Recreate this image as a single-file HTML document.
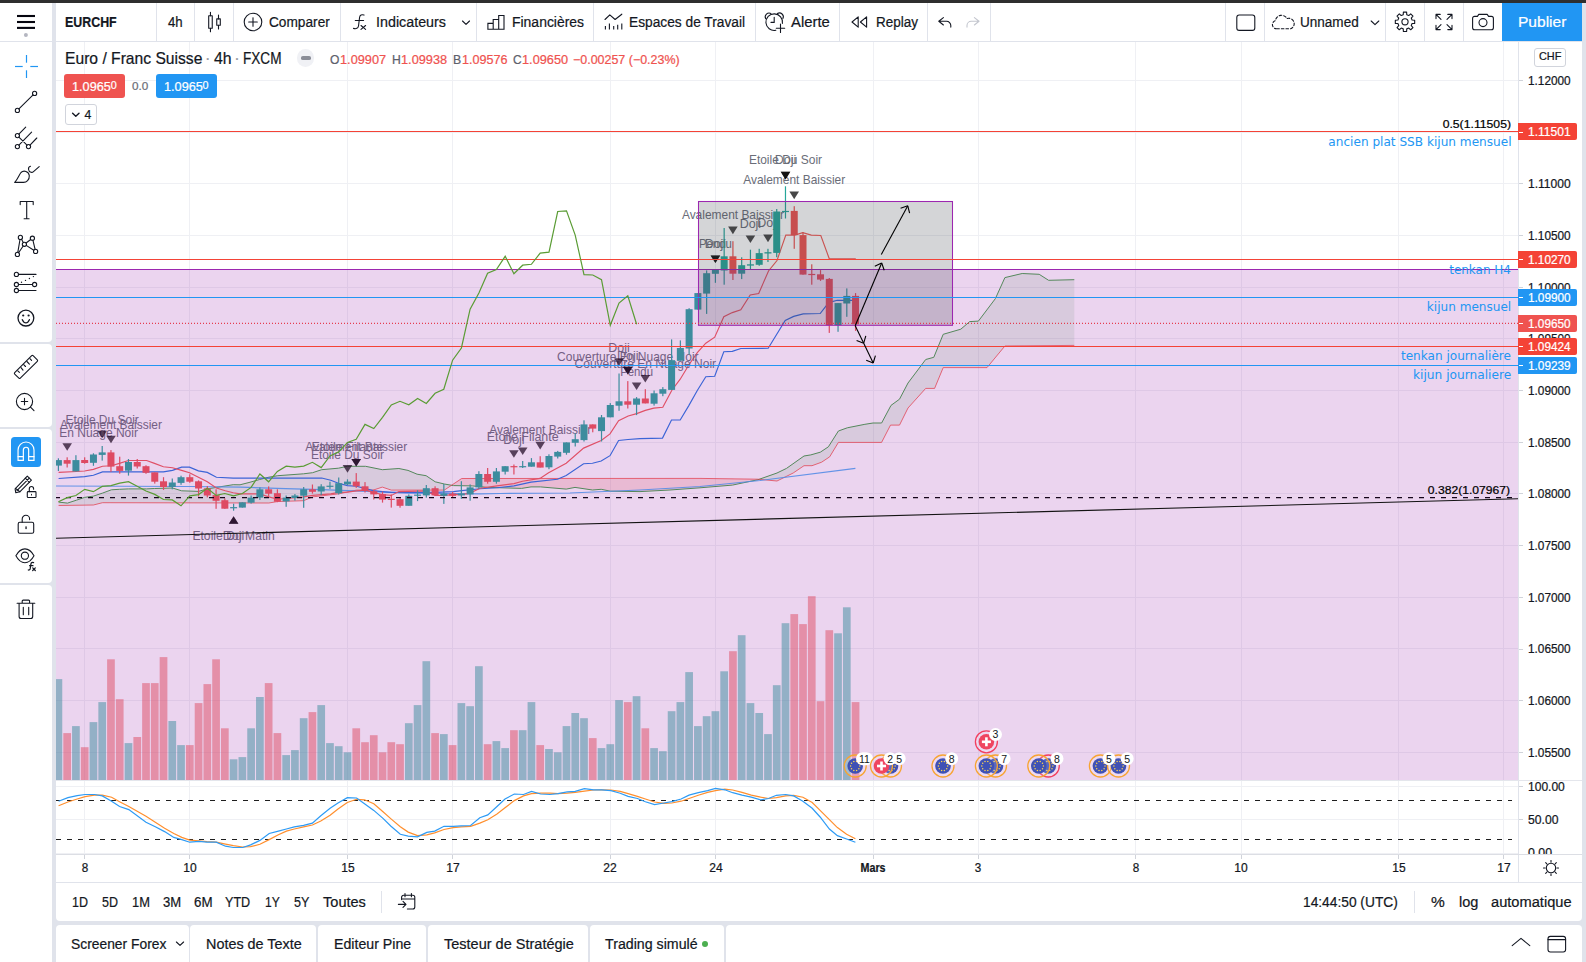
<!DOCTYPE html>
<html lang="fr"><head><meta charset="utf-8"><title>EURCHF</title>
<style>
*{box-sizing:border-box;margin:0;padding:0}
html,body{width:1586px;height:962px;overflow:hidden;background:#e0e3eb;font-family:"Liberation Sans", sans-serif;}
.abs{position:absolute}
.t{position:absolute;white-space:nowrap;line-height:1;-webkit-text-stroke:0.22px currentColor;}
.w{position:absolute;background:#fff}
.sep{position:absolute;width:1px;background:#e0e3eb}
svg{position:absolute;overflow:visible}
.ic{fill:none;stroke:#131722;stroke-width:1.1;stroke-linecap:round;stroke-linejoin:round}
</style></head><body>

<div class="abs" style="left:0;top:0;width:1586px;height:2.6px;background:#2e2e2e"></div>
<div class="w" id="leftbar" style="left:0;top:3px;width:52px;height:959px"></div>
<div class="w" id="topbar" style="left:56px;top:3px;width:1526px;height:38px"></div>
<div class="w" id="chart" style="left:56px;top:42px;width:1526px;height:840px"></div>
<div class="w" id="rangebar" style="left:56px;top:882px;width:1526px;height:38.6px;border-radius:0 0 4px 4px"></div>
<div class="w" style="left:56.0px;top:924.6px;width:132.5px;height:38px;border-radius:4px 4px 0 0"></div>
<div class="w" style="left:190.1px;top:924.6px;width:126.0px;height:38px;border-radius:4px 4px 0 0"></div>
<div class="w" style="left:317.7px;top:924.6px;width:108.8px;height:38px;border-radius:4px 4px 0 0"></div>
<div class="w" style="left:428.1px;top:924.6px;width:160.4px;height:38px;border-radius:4px 4px 0 0"></div>
<div class="w" style="left:590.1px;top:924.6px;width:133.8px;height:38px;border-radius:4px 4px 0 0"></div>
<div class="w" style="left:725.5px;top:924.6px;width:856.5px;height:38px;border-radius:4px 4px 0 0"></div>
<svg id="plot" width="1586" height="962" viewBox="0 0 1586 962" style="left:0;top:0">
<defs><clipPath id="cpm"><rect x="56" y="42" width="1462" height="738.5"/></clipPath>
<clipPath id="cps"><rect x="56" y="781.5" width="1462" height="72.5"/></clipPath></defs>
<g stroke="#eff0f4" stroke-width="1" shape-rendering="crispEdges">
<line x1="84.5" y1="42" x2="84.5" y2="854"/>
<line x1="189.5" y1="42" x2="189.5" y2="854"/>
<line x1="347.5" y1="42" x2="347.5" y2="854"/>
<line x1="452.5" y1="42" x2="452.5" y2="854"/>
<line x1="610.5" y1="42" x2="610.5" y2="854"/>
<line x1="715.5" y1="42" x2="715.5" y2="854"/>
<line x1="873.5" y1="42" x2="873.5" y2="854"/>
<line x1="978.5" y1="42" x2="978.5" y2="854"/>
<line x1="1135.5" y1="42" x2="1135.5" y2="854"/>
<line x1="1241.5" y1="42" x2="1241.5" y2="854"/>
<line x1="1398.5" y1="42" x2="1398.5" y2="854"/>
<line x1="1503.5" y1="42" x2="1503.5" y2="854"/>
<line x1="56" y1="80.5" x2="1518" y2="80.5"/>
<line x1="56" y1="132.5" x2="1518" y2="132.5"/>
<line x1="56" y1="183.5" x2="1518" y2="183.5"/>
<line x1="56" y1="235.5" x2="1518" y2="235.5"/>
<line x1="56" y1="287.5" x2="1518" y2="287.5"/>
<line x1="56" y1="338.5" x2="1518" y2="338.5"/>
<line x1="56" y1="390.5" x2="1518" y2="390.5"/>
<line x1="56" y1="442.5" x2="1518" y2="442.5"/>
<line x1="56" y1="493.5" x2="1518" y2="493.5"/>
<line x1="56" y1="545.5" x2="1518" y2="545.5"/>
<line x1="56" y1="597.5" x2="1518" y2="597.5"/>
<line x1="56" y1="648.5" x2="1518" y2="648.5"/>
<line x1="56" y1="700.5" x2="1518" y2="700.5"/>
<line x1="56" y1="752.5" x2="1518" y2="752.5"/>
<line x1="56" y1="786.5" x2="1518" y2="786.5"/>
<line x1="56" y1="819.5" x2="1518" y2="819.5"/>
<line x1="56" y1="853.5" x2="1518" y2="853.5"/>
</g>
<g clip-path="url(#cpm)">
<rect x="54.55" y="679.1" width="7.7" height="100.9" fill="rgba(38,166,154,0.5)"/>
<rect x="63.31" y="733.1" width="7.7" height="46.9" fill="rgba(239,83,80,0.5)"/>
<rect x="72.07" y="726.1" width="7.7" height="53.9" fill="rgba(38,166,154,0.5)"/>
<rect x="80.83" y="747.2" width="7.7" height="32.8" fill="rgba(239,83,80,0.5)"/>
<rect x="89.59" y="722.1" width="7.7" height="57.9" fill="rgba(38,166,154,0.5)"/>
<rect x="98.35" y="702.1" width="7.7" height="77.9" fill="rgba(38,166,154,0.5)"/>
<rect x="107.11" y="659.3" width="7.7" height="120.7" fill="rgba(239,83,80,0.5)"/>
<rect x="115.87" y="699.2" width="7.7" height="80.8" fill="rgba(239,83,80,0.5)"/>
<rect x="124.63" y="743.1" width="7.7" height="36.9" fill="rgba(38,166,154,0.5)"/>
<rect x="133.39" y="737.0" width="7.7" height="43.0" fill="rgba(239,83,80,0.5)"/>
<rect x="142.15" y="683.1" width="7.7" height="96.9" fill="rgba(239,83,80,0.5)"/>
<rect x="150.91" y="683.1" width="7.7" height="96.9" fill="rgba(239,83,80,0.5)"/>
<rect x="159.67" y="657.1" width="7.7" height="122.9" fill="rgba(239,83,80,0.5)"/>
<rect x="168.43" y="721.0" width="7.7" height="59.0" fill="rgba(38,166,154,0.5)"/>
<rect x="177.19" y="745.1" width="7.7" height="34.9" fill="rgba(38,166,154,0.5)"/>
<rect x="185.95" y="745.1" width="7.7" height="34.9" fill="rgba(239,83,80,0.5)"/>
<rect x="194.71" y="703.1" width="7.7" height="76.9" fill="rgba(239,83,80,0.5)"/>
<rect x="203.47" y="684.1" width="7.7" height="95.9" fill="rgba(239,83,80,0.5)"/>
<rect x="212.23" y="659.3" width="7.7" height="120.7" fill="rgba(239,83,80,0.5)"/>
<rect x="220.99" y="728.3" width="7.7" height="51.7" fill="rgba(239,83,80,0.5)"/>
<rect x="229.75" y="759.3" width="7.7" height="20.7" fill="rgba(38,166,154,0.5)"/>
<rect x="238.51" y="757.1" width="7.7" height="22.9" fill="rgba(38,166,154,0.5)"/>
<rect x="247.27" y="728.3" width="7.7" height="51.7" fill="rgba(38,166,154,0.5)"/>
<rect x="256.03" y="697.0" width="7.7" height="83.0" fill="rgba(38,166,154,0.5)"/>
<rect x="264.79" y="683.1" width="7.7" height="96.9" fill="rgba(239,83,80,0.5)"/>
<rect x="273.55" y="733.1" width="7.7" height="46.9" fill="rgba(239,83,80,0.5)"/>
<rect x="282.31" y="755.1" width="7.7" height="24.9" fill="rgba(38,166,154,0.5)"/>
<rect x="291.07" y="750.1" width="7.7" height="29.9" fill="rgba(38,166,154,0.5)"/>
<rect x="299.83" y="718.2" width="7.7" height="61.8" fill="rgba(38,166,154,0.5)"/>
<rect x="308.59" y="712.1" width="7.7" height="67.9" fill="rgba(239,83,80,0.5)"/>
<rect x="317.35" y="705.1" width="7.7" height="74.9" fill="rgba(38,166,154,0.5)"/>
<rect x="326.11" y="743.1" width="7.7" height="36.9" fill="rgba(38,166,154,0.5)"/>
<rect x="334.87" y="746.2" width="7.7" height="33.8" fill="rgba(38,166,154,0.5)"/>
<rect x="343.63" y="752.3" width="7.7" height="27.7" fill="rgba(38,166,154,0.5)"/>
<rect x="352.39" y="728.3" width="7.7" height="51.7" fill="rgba(239,83,80,0.5)"/>
<rect x="361.15" y="742.2" width="7.7" height="37.8" fill="rgba(239,83,80,0.5)"/>
<rect x="369.91" y="735.2" width="7.7" height="44.8" fill="rgba(239,83,80,0.5)"/>
<rect x="378.67" y="752.3" width="7.7" height="27.7" fill="rgba(239,83,80,0.5)"/>
<rect x="387.43" y="742.2" width="7.7" height="37.8" fill="rgba(239,83,80,0.5)"/>
<rect x="396.19" y="744.2" width="7.7" height="35.8" fill="rgba(239,83,80,0.5)"/>
<rect x="404.95" y="723.2" width="7.7" height="56.8" fill="rgba(38,166,154,0.5)"/>
<rect x="413.71" y="705.1" width="7.7" height="74.9" fill="rgba(38,166,154,0.5)"/>
<rect x="422.47" y="661.2" width="7.7" height="118.8" fill="rgba(38,166,154,0.5)"/>
<rect x="431.23" y="733.1" width="7.7" height="46.9" fill="rgba(239,83,80,0.5)"/>
<rect x="439.99" y="734.1" width="7.7" height="45.9" fill="rgba(38,166,154,0.5)"/>
<rect x="448.75" y="745.1" width="7.7" height="34.9" fill="rgba(239,83,80,0.5)"/>
<rect x="457.51" y="703.1" width="7.7" height="76.9" fill="rgba(38,166,154,0.5)"/>
<rect x="466.27" y="706.2" width="7.7" height="73.8" fill="rgba(38,166,154,0.5)"/>
<rect x="475.03" y="666.2" width="7.7" height="113.8" fill="rgba(38,166,154,0.5)"/>
<rect x="483.79" y="744.2" width="7.7" height="35.8" fill="rgba(239,83,80,0.5)"/>
<rect x="492.55" y="741.1" width="7.7" height="38.9" fill="rgba(38,166,154,0.5)"/>
<rect x="501.31" y="748.1" width="7.7" height="31.9" fill="rgba(38,166,154,0.5)"/>
<rect x="510.07" y="730.2" width="7.7" height="49.8" fill="rgba(239,83,80,0.5)"/>
<rect x="518.83" y="730.2" width="7.7" height="49.8" fill="rgba(38,166,154,0.5)"/>
<rect x="527.59" y="702.1" width="7.7" height="77.9" fill="rgba(38,166,154,0.5)"/>
<rect x="536.35" y="745.1" width="7.7" height="34.9" fill="rgba(239,83,80,0.5)"/>
<rect x="545.11" y="749.0" width="7.7" height="31.0" fill="rgba(38,166,154,0.5)"/>
<rect x="553.87" y="752.3" width="7.7" height="27.7" fill="rgba(38,166,154,0.5)"/>
<rect x="562.63" y="726.1" width="7.7" height="53.9" fill="rgba(38,166,154,0.5)"/>
<rect x="571.39" y="713.0" width="7.7" height="67.0" fill="rgba(38,166,154,0.5)"/>
<rect x="580.15" y="718.2" width="7.7" height="61.8" fill="rgba(38,166,154,0.5)"/>
<rect x="588.91" y="738.1" width="7.7" height="41.9" fill="rgba(239,83,80,0.5)"/>
<rect x="597.67" y="748.1" width="7.7" height="31.9" fill="rgba(38,166,154,0.5)"/>
<rect x="606.43" y="744.2" width="7.7" height="35.8" fill="rgba(38,166,154,0.5)"/>
<rect x="615.19" y="700.1" width="7.7" height="79.9" fill="rgba(38,166,154,0.5)"/>
<rect x="623.95" y="702.1" width="7.7" height="77.9" fill="rgba(239,83,80,0.5)"/>
<rect x="632.71" y="696.2" width="7.7" height="83.8" fill="rgba(38,166,154,0.5)"/>
<rect x="641.47" y="728.3" width="7.7" height="51.7" fill="rgba(239,83,80,0.5)"/>
<rect x="650.23" y="748.1" width="7.7" height="31.9" fill="rgba(38,166,154,0.5)"/>
<rect x="658.99" y="751.2" width="7.7" height="28.8" fill="rgba(38,166,154,0.5)"/>
<rect x="667.75" y="711.2" width="7.7" height="68.8" fill="rgba(38,166,154,0.5)"/>
<rect x="676.51" y="702.1" width="7.7" height="77.9" fill="rgba(38,166,154,0.5)"/>
<rect x="685.27" y="672.1" width="7.7" height="107.9" fill="rgba(38,166,154,0.5)"/>
<rect x="694.03" y="726.1" width="7.7" height="53.9" fill="rgba(38,166,154,0.5)"/>
<rect x="702.79" y="716.2" width="7.7" height="63.8" fill="rgba(38,166,154,0.5)"/>
<rect x="711.55" y="711.2" width="7.7" height="68.8" fill="rgba(38,166,154,0.5)"/>
<rect x="720.31" y="671.3" width="7.7" height="108.7" fill="rgba(38,166,154,0.5)"/>
<rect x="729.07" y="651.2" width="7.7" height="128.8" fill="rgba(239,83,80,0.5)"/>
<rect x="737.83" y="635.2" width="7.7" height="144.8" fill="rgba(38,166,154,0.5)"/>
<rect x="746.59" y="703.1" width="7.7" height="76.9" fill="rgba(38,166,154,0.5)"/>
<rect x="755.35" y="713.0" width="7.7" height="67.0" fill="rgba(38,166,154,0.5)"/>
<rect x="764.11" y="734.1" width="7.7" height="45.9" fill="rgba(38,166,154,0.5)"/>
<rect x="772.87" y="685.2" width="7.7" height="94.8" fill="rgba(38,166,154,0.5)"/>
<rect x="781.63" y="623.2" width="7.7" height="156.8" fill="rgba(38,166,154,0.5)"/>
<rect x="790.39" y="614.1" width="7.7" height="165.9" fill="rgba(239,83,80,0.5)"/>
<rect x="799.15" y="624.1" width="7.7" height="155.9" fill="rgba(239,83,80,0.5)"/>
<rect x="807.91" y="596.2" width="7.7" height="183.8" fill="rgba(239,83,80,0.5)"/>
<rect x="816.67" y="701.2" width="7.7" height="78.8" fill="rgba(239,83,80,0.5)"/>
<rect x="825.43" y="630.2" width="7.7" height="149.8" fill="rgba(239,83,80,0.5)"/>
<rect x="834.19" y="633.3" width="7.7" height="146.7" fill="rgba(38,166,154,0.5)"/>
<rect x="842.95" y="607.3" width="7.7" height="172.7" fill="rgba(38,166,154,0.5)"/>
<rect x="851.71" y="702.1" width="7.7" height="77.9" fill="rgba(239,83,80,0.5)"/>
<path d="M58.6,502.1 L60.8,502.4 L63.0,502.6 L65.3,502.9 L67.5,503.1 L69.7,502.4 L72.0,501.6 L74.2,500.9 L76.4,500.2 L78.5,499.5 L80.5,498.8 L82.5,498.1 L84.6,497.4 L86.8,497.1 L89.0,496.8 L91.2,496.4 L93.4,496.1 L95.7,495.4 L98.0,494.6 L100.2,493.9 L102.5,493.1 L104.7,492.3 L107.0,491.5 L109.2,490.6 L111.4,489.8 L113.4,489.7 L115.4,489.6 L117.4,489.4 L119.4,489.3 L121.7,489.2 L123.9,489.1 L126.2,489.0 L128.4,488.9 L130.4,488.9 L132.4,488.9 L134.5,488.9 L136.5,488.9 L138.5,488.9 L140.5,488.9 L142.6,488.9 L144.6,488.9 L146.6,488.9 L149.2,488.8 L151.9,488.6 L154.5,488.5 L156.5,488.4 L158.5,488.4 L160.5,488.3 L162.5,488.3 L164.5,488.2 L166.5,488.2 L168.5,488.1 L170.5,488.1 L172.5,488.0 L174.8,488.7 L177.1,489.4 L179.3,490.1 L181.6,490.8 L183.7,490.9 L185.8,490.9 L187.9,491.0 L190.0,491.1 L192.1,491.2 L194.2,491.2 L196.3,491.3 L198.4,491.4 L200.6,490.8 L202.9,490.1 L205.1,489.5 L207.3,488.9 L209.6,488.5 L211.9,488.1 L214.1,487.8 L216.4,487.4 L218.5,487.1 L220.6,486.7 L222.7,486.4 L224.8,486.0 L226.9,485.7 L229.0,485.4 L231.1,485.0 L233.2,484.7 L235.5,484.7 L237.7,484.8 L240.0,484.8 L242.2,484.2 L244.5,483.6 L246.8,483.1 L249.0,482.5 L251.1,481.9 L253.3,481.3 L255.4,480.7 L257.6,480.1 L259.7,479.5 L262.0,478.9 L264.2,478.4 L266.5,477.8 L268.8,477.2 L271.1,476.8 L273.3,476.4 L275.6,476.1 L277.8,475.7 L279.9,475.5 L282.1,475.4 L284.2,475.2 L286.4,475.1 L288.6,474.9 L290.7,474.8 L292.9,474.6 L295.0,474.4 L297.2,474.3 L299.3,474.1 L301.5,474.0 L303.6,473.8 L305.9,473.5 L308.1,473.2 L310.4,473.0 L312.6,472.7 L314.9,471.9 L317.1,471.2 L319.4,470.4 L321.7,469.7 L323.8,469.5 L325.9,469.3 L328.0,469.1 L330.0,468.9 L332.1,468.8 L334.2,468.6 L336.3,468.4 L338.4,468.2 L340.6,467.7 L342.9,467.2 L345.1,466.8 L347.4,466.3 L349.7,466.3 L351.9,466.3 L354.2,466.3 L356.5,466.3 L358.8,466.3 L361.1,466.3 L363.3,466.3 L365.6,466.3 L368.1,466.8 L370.7,467.3 L373.2,467.8 L375.5,468.3 L377.8,468.8 L380.0,469.2 L382.3,469.7 L384.6,469.5 L386.8,469.4 L389.1,469.2 L391.3,469.0 L393.8,468.9 L396.4,468.7 L398.9,468.5 L401.2,469.0 L403.4,469.4 L405.7,469.9 L408.0,470.4 L410.3,471.3 L412.6,472.3 L414.8,473.2 L417.1,474.2 L419.4,474.6 L421.6,474.9 L423.9,475.3 L426.1,475.7 L428.4,477.2 L430.6,478.8 L432.9,480.3 L435.2,481.8 L437.5,482.4 L439.8,482.9 L442.0,483.4 L444.3,484.0 L446.6,484.4 L448.9,484.8 L451.1,485.2 L453.4,485.6 L453.4,484.0 L451.1,485.6 L448.9,487.1 L446.6,488.6 L444.3,490.1 L442.0,490.1 L439.8,490.1 L437.5,490.1 L435.2,490.1 L432.9,490.1 L430.6,490.1 L428.4,490.1 L426.1,490.1 L423.9,490.1 L421.6,490.1 L419.4,490.1 L417.1,490.1 L414.8,490.1 L412.6,490.1 L410.3,490.1 L408.0,490.1 L405.7,490.1 L403.4,490.1 L401.2,490.1 L398.9,490.1 L396.4,490.1 L393.8,490.1 L391.3,490.1 L389.1,489.4 L386.8,488.6 L384.6,487.9 L382.3,487.1 L380.0,487.9 L377.8,488.6 L375.5,489.4 L373.2,490.1 L370.7,490.1 L368.1,490.1 L365.6,490.1 L363.3,490.1 L361.1,490.1 L358.8,490.1 L356.5,490.1 L354.2,490.6 L351.9,491.1 L349.7,491.5 L347.4,492.0 L345.1,492.5 L342.9,493.0 L340.6,493.4 L338.4,493.9 L336.3,494.1 L334.2,494.4 L332.1,494.6 L330.0,494.9 L328.0,495.1 L325.9,495.4 L323.8,495.6 L321.7,495.8 L319.4,496.1 L317.1,496.4 L314.9,496.6 L312.6,496.9 L310.4,497.8 L308.1,498.8 L305.9,499.8 L303.6,500.7 L301.5,500.8 L299.3,500.8 L297.2,500.9 L295.0,501.0 L292.9,501.0 L290.7,501.1 L288.6,501.2 L286.4,501.2 L284.2,501.3 L282.1,501.4 L279.9,501.4 L277.8,501.5 L275.6,501.9 L273.3,502.2 L271.1,502.6 L268.8,503.0 L266.5,503.0 L264.2,503.0 L262.0,503.0 L259.7,503.0 L257.6,503.0 L255.4,503.0 L253.3,503.0 L251.1,503.0 L249.0,503.0 L246.8,503.0 L244.5,503.0 L242.2,503.0 L240.0,502.9 L237.7,502.9 L235.5,502.9 L233.2,502.9 L231.1,502.9 L229.0,502.9 L226.9,502.9 L224.8,502.9 L222.7,502.9 L220.6,502.9 L218.5,502.9 L216.4,502.9 L214.1,502.9 L211.9,502.9 L209.6,502.9 L207.3,502.9 L205.1,502.9 L202.9,502.9 L200.6,502.9 L198.4,502.9 L196.3,502.9 L194.2,502.9 L192.1,502.9 L190.0,502.9 L187.9,502.9 L185.8,502.9 L183.7,502.8 L181.6,502.8 L179.3,502.8 L177.1,502.8 L174.8,502.8 L172.5,502.8 L170.5,502.8 L168.5,502.8 L166.5,502.8 L164.5,502.8 L162.5,502.8 L160.5,502.8 L158.5,502.8 L156.5,502.8 L154.5,502.8 L151.9,502.8 L149.2,502.8 L146.6,502.8 L144.6,502.8 L142.6,502.8 L140.5,502.8 L138.5,502.8 L136.5,502.8 L134.5,502.8 L132.4,502.8 L130.4,502.8 L128.4,502.7 L126.2,502.7 L123.9,502.7 L121.7,502.7 L119.4,502.7 L117.4,502.7 L115.4,502.7 L113.4,502.7 L111.4,502.7 L109.2,502.7 L107.0,502.7 L104.7,502.7 L102.5,502.7 L100.2,503.3 L98.0,503.9 L95.7,504.4 L93.4,505.0 L91.2,505.0 L89.0,505.1 L86.8,505.1 L84.6,505.1 L82.5,505.2 L80.5,505.2 L78.5,505.2 L76.4,505.2 L74.2,505.3 L72.0,505.3 L69.7,505.3 L67.5,505.4 L65.3,505.4 L63.0,505.4 L60.8,505.5 L58.6,505.5Z" fill="rgba(67,160,71,0.12)"/>
<path d="M453.4,485.6 L455.5,485.6 L457.5,485.7 L459.6,485.7 L461.7,485.7 L463.8,485.8 L466.0,485.8 L468.1,485.8 L470.3,485.9 L472.4,485.9 L474.6,486.1 L476.7,486.3 L478.9,486.5 L481.0,486.8 L483.2,487.0 L485.3,487.2 L487.5,487.4 L489.5,487.5 L491.5,487.5 L493.5,487.6 L495.5,487.6 L497.5,487.7 L499.5,487.8 L501.5,487.8 L503.5,487.9 L505.6,487.9 L507.6,488.0 L509.6,488.0 L511.6,488.1 L513.6,488.2 L515.6,488.2 L517.6,488.3 L519.6,488.3 L521.6,488.4 L524.0,488.0 L526.3,487.6 L528.6,487.3 L531.0,486.9 L533.4,486.9 L535.8,486.9 L538.1,486.9 L540.5,486.9 L542.6,487.1 L544.8,487.3 L546.9,487.4 L549.1,487.6 L551.2,487.8 L553.4,488.0 L555.5,488.2 L557.6,488.4 L559.8,488.6 L561.9,488.7 L564.1,488.9 L566.2,489.1 L568.4,488.7 L570.6,488.2 L572.8,487.8 L575.0,487.4 L577.2,487.7 L579.4,488.0 L581.6,488.4 L583.8,488.7 L585.9,489.0 L588.1,489.4 L590.3,489.7 L592.5,490.0 L594.7,489.8 L596.9,489.6 L599.0,489.5 L601.2,489.3 L603.5,489.8 L605.9,490.2 L608.2,490.7 L610.5,491.2 L612.6,491.2 L614.7,491.3 L616.8,491.3 L618.9,491.3 L621.0,491.3 L623.1,491.4 L625.2,491.4 L627.4,491.4 L629.5,491.5 L631.6,491.5 L633.7,491.5 L635.8,491.5 L637.9,491.6 L640.0,491.6 L642.0,491.5 L644.0,491.4 L646.0,491.3 L648.0,491.2 L650.0,491.1 L652.0,491.0 L654.0,490.9 L656.0,490.7 L658.0,490.6 L660.0,490.5 L662.0,490.4 L664.0,490.3 L666.0,490.2 L668.0,490.1 L670.0,490.0 L672.0,489.9 L674.0,489.7 L676.0,489.6 L678.0,489.4 L680.0,489.3 L682.0,489.1 L684.0,489.0 L686.0,488.8 L688.0,488.7 L690.0,488.5 L692.0,488.4 L694.0,488.2 L696.0,488.1 L698.0,487.9 L700.0,487.8 L702.0,487.6 L704.0,487.5 L706.1,487.3 L708.1,487.1 L710.1,487.0 L712.1,486.8 L714.2,486.6 L716.2,486.4 L718.2,486.3 L720.2,486.1 L722.3,485.9 L724.3,485.8 L726.3,485.6 L728.4,485.4 L730.4,485.3 L732.4,485.1 L734.5,484.7 L736.7,484.2 L738.8,483.8 L740.9,483.3 L743.1,482.9 L745.2,482.4 L747.3,481.9 L749.5,481.5 L751.6,481.1 L753.7,480.6 L755.9,480.1 L758.0,479.7 L760.1,479.0 L760.1,479.4 L758.0,479.2 L755.9,479.2 L753.7,479.1 L751.6,479.1 L749.5,479.1 L747.3,479.1 L745.2,479.0 L743.1,479.0 L740.9,479.0 L738.8,478.9 L736.7,478.9 L734.5,478.9 L732.4,478.8 L730.4,478.8 L728.4,478.8 L726.3,478.8 L724.3,478.7 L722.3,478.7 L720.2,478.7 L718.2,478.7 L716.2,478.6 L714.2,478.6 L712.1,478.6 L710.1,478.5 L708.1,478.5 L706.1,478.5 L704.0,478.5 L702.0,478.4 L700.0,478.4 L698.0,478.4 L696.0,478.4 L694.0,478.4 L692.0,478.4 L690.0,478.4 L688.0,478.4 L686.0,478.4 L684.0,478.4 L682.0,478.4 L680.0,478.4 L678.0,478.4 L676.0,478.4 L674.0,478.4 L672.0,478.4 L670.0,478.4 L668.0,478.4 L666.0,478.4 L664.0,478.4 L662.0,478.4 L660.0,478.4 L658.0,478.4 L656.0,478.4 L654.0,478.4 L652.0,478.4 L650.0,478.4 L648.0,478.4 L646.0,478.4 L644.0,478.4 L642.0,478.4 L640.0,478.4 L637.9,478.4 L635.8,478.4 L633.7,478.4 L631.6,478.4 L629.5,478.4 L627.4,478.4 L625.2,478.4 L623.1,478.4 L621.0,478.4 L618.9,478.4 L616.8,478.4 L614.7,478.4 L612.6,478.4 L610.5,478.4 L608.2,478.4 L605.9,478.4 L603.5,478.4 L601.2,478.4 L599.0,478.4 L596.9,478.4 L594.7,478.4 L592.5,478.4 L590.3,478.4 L588.1,478.4 L585.9,478.4 L583.8,478.4 L581.6,478.4 L579.4,478.5 L577.2,478.5 L575.0,478.5 L572.8,478.5 L570.6,478.5 L568.4,478.5 L566.2,478.5 L564.1,478.5 L561.9,478.5 L559.8,478.5 L557.6,478.5 L555.5,478.5 L553.4,478.5 L551.2,478.5 L549.1,478.5 L546.9,478.5 L544.8,478.5 L542.6,478.5 L540.5,478.5 L538.1,478.5 L535.8,478.5 L533.4,478.5 L531.0,478.5 L528.6,478.5 L526.3,478.5 L524.0,478.5 L521.6,478.5 L519.6,478.5 L517.6,478.5 L515.6,478.5 L513.6,478.5 L511.6,478.5 L509.6,478.5 L507.6,478.5 L505.6,478.5 L503.5,478.5 L501.5,478.5 L499.5,478.5 L497.5,478.5 L495.5,478.5 L493.5,478.5 L491.5,478.5 L489.5,478.5 L487.5,478.5 L485.3,478.5 L483.2,478.5 L481.0,478.5 L478.9,478.5 L476.7,478.5 L474.6,478.5 L472.4,478.5 L470.3,478.5 L468.1,478.5 L466.0,478.5 L463.8,478.5 L461.7,478.5 L459.6,479.9 L457.5,481.3 L455.5,482.7 L453.4,484.0Z" fill="rgba(244,67,54,0.17)"/>
<path d="M760.1,479.0 L762.2,478.2 L764.3,477.5 L766.4,476.7 L768.6,476.0 L770.7,475.2 L772.8,474.5 L774.9,473.7 L777.0,473.0 L779.4,471.9 L781.8,470.7 L784.1,469.5 L786.5,468.4 L788.7,466.8 L791.0,465.2 L793.2,463.7 L795.4,462.1 L797.5,460.6 L799.7,459.1 L801.8,457.5 L804.0,456.0 L806.3,455.6 L808.5,455.3 L810.8,454.9 L812.0,454.6 L814.1,454.0 L816.1,453.4 L818.2,452.8 L820.3,452.2 L821.6,451.3 L823.9,449.8 L826.1,448.3 L828.4,446.8 L829.7,444.7 L831.9,441.3 L834.0,437.9 L836.2,434.4 L838.4,431.0 L840.6,430.2 L842.8,429.4 L845.1,428.6 L847.3,427.8 L849.5,427.4 L851.7,426.9 L853.9,426.5 L856.1,426.1 L858.3,425.6 L860.5,425.2 L862.7,424.7 L864.9,424.3 L866.9,424.0 L869.0,423.6 L871.0,423.3 L873.0,423.0 L875.1,423.0 L877.3,423.0 L879.5,423.0 L881.6,423.0 L883.8,418.8 L886.0,414.7 L888.3,410.5 L890.5,406.3 L891.0,405.4 L893.1,403.8 L895.2,402.3 L897.4,400.8 L899.5,399.2 L901.6,395.1 L903.8,391.1 L905.9,387.1 L908.0,383.0 L910.2,380.1 L912.4,377.1 L914.6,374.2 L916.9,371.2 L919.1,368.3 L921.3,365.4 L923.5,362.4 L925.7,359.5 L927.7,358.9 L929.8,358.4 L931.8,357.9 L933.8,357.3 L934.6,355.3 L936.8,350.1 L938.9,344.8 L941.1,339.6 L943.2,334.3 L945.4,333.7 L947.6,333.0 L949.8,332.4 L952.0,331.8 L954.2,331.1 L956.4,330.5 L958.6,329.8 L960.8,329.2 L963.0,327.3 L965.2,325.4 L967.5,323.5 L969.7,321.6 L971.9,321.5 L974.0,321.4 L976.2,321.2 L978.4,321.1 L980.5,318.3 L982.7,315.4 L984.9,312.6 L987.0,309.7 L989.1,306.9 L991.2,304.2 L993.3,301.4 L995.4,298.6 L997.8,293.4 L1000.1,288.1 L1002.5,282.9 L1004.9,277.6 L1007.1,277.1 L1009.2,276.6 L1011.4,276.1 L1013.5,275.6 L1015.7,275.0 L1017.9,274.5 L1020.0,274.0 L1022.2,273.5 L1024.3,273.6 L1026.5,273.7 L1028.6,273.8 L1030.7,273.9 L1032.8,274.0 L1035.0,274.1 L1037.1,274.2 L1039.2,274.3 L1041.5,275.8 L1043.9,277.3 L1046.2,278.8 L1048.6,280.3 L1050.7,280.2 L1052.9,280.2 L1055.0,280.2 L1057.2,280.1 L1059.3,280.1 L1061.4,280.0 L1063.6,279.9 L1065.7,279.9 L1067.9,279.8 L1070.0,279.8 L1072.2,279.8 L1074.3,279.7 L1074.3,345.4 L1072.2,345.4 L1070.0,345.4 L1067.9,345.5 L1065.7,345.5 L1063.6,345.5 L1061.4,345.5 L1059.3,345.5 L1057.2,345.5 L1055.0,345.6 L1052.9,345.6 L1050.7,345.6 L1048.6,345.6 L1046.2,345.6 L1043.9,345.7 L1041.5,345.7 L1039.2,345.7 L1037.1,345.7 L1035.0,345.7 L1032.8,345.8 L1030.7,345.8 L1028.6,345.8 L1026.5,345.8 L1024.3,345.8 L1022.2,345.9 L1020.0,345.9 L1017.9,345.9 L1015.7,345.9 L1013.5,345.9 L1011.4,345.9 L1009.2,346.0 L1007.1,346.0 L1004.9,346.0 L1002.5,348.9 L1000.1,351.7 L997.8,354.6 L995.4,357.5 L993.3,360.0 L991.2,362.5 L989.1,365.1 L987.0,367.6 L984.9,367.6 L982.7,367.6 L980.5,367.6 L978.4,367.6 L976.2,367.6 L974.0,367.6 L971.9,367.6 L969.7,367.6 L967.5,367.6 L965.2,367.6 L963.0,367.6 L960.8,367.6 L958.6,367.6 L956.4,367.6 L954.2,367.6 L952.0,367.6 L949.8,367.6 L947.6,367.6 L945.4,367.6 L943.2,367.6 L941.1,372.8 L938.9,378.0 L936.8,383.2 L934.6,388.4 L933.8,388.4 L931.8,388.4 L929.8,388.4 L927.7,388.4 L925.7,388.4 L923.5,390.8 L921.3,393.3 L919.1,395.8 L916.9,398.2 L914.6,400.6 L912.4,403.1 L910.2,405.6 L908.0,408.0 L905.9,412.3 L903.8,416.6 L901.6,420.8 L899.5,425.1 L897.4,425.1 L895.2,425.1 L893.1,425.1 L891.0,425.1 L890.5,425.1 L888.3,429.4 L886.0,433.8 L883.8,438.1 L881.6,442.4 L879.5,442.4 L877.3,442.4 L875.1,442.4 L873.0,442.4 L871.0,442.4 L869.0,442.4 L866.9,442.4 L864.9,442.4 L862.7,442.4 L860.5,442.4 L858.3,442.4 L856.1,442.4 L853.9,442.4 L851.7,442.4 L849.5,442.4 L847.3,442.4 L845.1,442.4 L842.8,442.4 L840.6,442.4 L838.4,442.4 L836.2,446.0 L834.0,449.6 L831.9,453.2 L829.7,456.8 L828.4,457.7 L826.1,459.2 L823.9,460.7 L821.6,462.2 L820.3,462.7 L818.2,463.4 L816.1,464.2 L814.1,464.9 L812.0,465.7 L810.8,465.7 L808.5,465.7 L806.3,465.7 L804.0,465.7 L801.8,467.2 L799.7,468.6 L797.5,470.1 L795.4,471.5 L793.2,473.0 L791.0,474.1 L788.7,475.2 L786.5,476.3 L784.1,477.5 L781.8,478.7 L779.4,479.8 L777.0,481.0 L774.9,480.8 L772.8,480.6 L770.7,480.4 L768.6,480.2 L766.4,480.0 L764.3,479.8 L762.2,479.6 L760.1,479.4Z" fill="rgba(67,160,71,0.12)"/>
<polyline fill="none" stroke="#43a047" stroke-width="1" points="58.6,502.1 67.5,503.1 76.4,500.2 84.6,497.4 93.4,496.1 102.5,493.1 111.4,489.8 119.4,489.3 128.4,488.9 146.6,488.9 154.5,488.5 172.5,488.0 181.6,490.8 198.4,491.4 207.3,488.9 216.4,487.4 233.2,484.7 240.0,484.8 249.0,482.5 259.7,479.5 268.8,477.2 277.8,475.7 303.6,473.8 312.6,472.7 321.7,469.7 338.4,468.2 347.4,466.3 365.6,466.3 382.3,469.7 398.9,468.5 408.0,470.4 417.1,474.2 426.1,475.7 435.2,481.8 444.3,484.0 453.4,485.6 472.4,485.9 487.5,487.4 521.6,488.4 531.0,486.9 540.5,486.9 566.2,489.1 575.0,487.4 592.5,490.0 601.2,489.3 610.5,491.2 640.0,491.6 670.0,490.0 700.0,487.8 732.4,485.1 758.0,479.7 777.0,473.0 786.5,468.4 804.0,456.0 810.8,454.9 820.3,452.2 828.4,446.8 838.4,431.0 847.3,427.8 864.9,424.3 873.0,423.0 881.6,423.0 891.0,405.4 899.5,399.2 908.0,383.0 925.7,359.5 933.8,357.3 943.2,334.3 960.8,329.2 969.7,321.6 978.4,321.1 995.4,298.6 1004.9,277.6 1022.2,273.5 1039.2,274.3 1048.6,280.3 1074.3,279.7" />
<polyline fill="none" stroke="#f44336" stroke-width="1" points="58.6,505.5 93.4,505.0 102.5,502.7 268.8,503.0 277.8,501.5 303.6,500.7 312.6,496.9 338.4,493.9 356.5,490.1 373.2,490.1 382.3,487.1 391.3,490.1 444.3,490.1 461.7,478.5 700.0,478.4 758.0,479.2 777.0,481.0 793.2,473.0 804.0,465.7 812.0,465.7 821.6,462.2 829.7,456.8 838.4,442.4 881.6,442.4 890.5,425.1 899.5,425.1 908.0,408.0 925.7,388.4 934.6,388.4 943.2,367.6 987.0,367.6 1004.9,346.0 1074.3,345.4" stroke-opacity="0.75"/>
<polyline fill="none" stroke="#42a5f5" stroke-width="1.2" points="56.0,486.0 190.0,486.5 240.0,487.1 285.4,488.6 321.7,489.6 347.4,490.6 373.2,491.6 406.5,493.1 480.0,493.9 500.0,493.5 570.0,493.0 640.0,490.0 700.0,486.5 760.0,480.5 855.4,468.4" stroke-opacity="0.9"/>
<polyline fill="none" stroke="#2473e1" stroke-width="1.15" points="58.6,478.5 84.6,476.6 93.4,475.3 102.5,471.9 163.4,471.9 172.5,470.4 181.6,467.1 189.5,467.1 198.4,470.9 207.3,472.4 216.4,477.2 233.2,478.1 321.7,478.0 330.8,480.3 338.4,483.3 347.4,485.6 356.5,486.3 365.6,488.6 373.2,490.6 382.3,491.6 391.3,492.4 435.2,492.4 453.4,491.6 461.7,490.6 480.0,488.8 497.0,487.8 514.0,485.9 531.0,482.1 557.5,479.3 566.2,475.5 583.6,463.8 592.5,463.2 601.2,461.0 610.0,455.7 618.6,440.5 628.0,439.5 640.0,438.6 662.5,438.1 671.5,420.0 680.2,420.0 688.8,405.6 697.3,390.5 705.8,376.7 714.7,376.3 723.8,351.7 732.3,351.4 740.8,348.5 768.2,348.3 785.2,320.5 793.7,316.4 803.2,313.9 820.2,313.5 828.7,302.6 837.2,300.3 855.2,300.3" />
<polyline fill="none" stroke="#f25a55" stroke-width="1.15" points="58.6,472.4 76.4,471.5 84.6,471.0 93.4,469.4 102.5,466.2 111.4,465.8 119.4,463.4 128.4,460.5 146.6,460.5 154.5,463.4 163.4,466.8 172.5,467.7 181.6,470.4 189.5,472.8 198.4,477.2 207.3,481.7 216.4,488.0 225.3,490.8 233.2,492.7 240.0,493.9 259.7,493.9 268.8,496.9 277.8,499.2 303.6,496.9 312.6,495.4 330.8,493.9 338.4,492.4 347.4,492.1 356.5,490.9 365.6,490.1 373.2,492.4 382.3,494.6 391.3,495.4 398.9,491.6 426.1,490.9 435.2,495.4 444.3,495.4 453.4,494.6 461.7,494.6 470.0,493.1 480.0,488.2 497.0,485.9 514.0,483.6 522.5,481.2 540.0,478.4 548.6,472.7 566.2,463.2 583.6,448.1 601.2,440.5 610.0,433.9 618.6,420.7 628.2,416.0 636.7,413.6 645.3,410.4 653.8,408.1 662.8,407.2 671.7,390.5 680.2,379.2 688.8,365.0 697.3,352.7 705.8,343.2 714.7,337.2 723.8,316.7 732.3,312.6 740.8,309.7 750.2,295.0 758.7,293.5 768.5,271.0 777.0,260.5 785.8,235.1 794.7,235.1 802.8,232.7 811.3,235.1 820.8,235.5 829.3,258.8 855.8,258.8" />
<g font-family='&quot;Liberation Sans&quot;, sans-serif' font-size="12.6" fill="#6a6d78" text-anchor="middle">
<text x="67.2" y="436.9" textLength="141.5" lengthAdjust="spacingAndGlyphs">Couverture En Nuage Noir</text>
<text x="102.2" y="423.9" textLength="73.2" lengthAdjust="spacingAndGlyphs">Etoile Du Soir</text>
<text x="111.0" y="429.4" textLength="102.0" lengthAdjust="spacingAndGlyphs">Avalement Baissier</text>
<text x="233.6" y="540.4" textLength="82.4" lengthAdjust="spacingAndGlyphs">Etoile Du Matin</text>
<text x="233.6" y="540.4" textLength="21.5" lengthAdjust="spacingAndGlyphs">Doji</text>
<text x="356.2" y="451.4" textLength="102.0" lengthAdjust="spacingAndGlyphs">Avalement Baissier</text>
<text x="347.5" y="451.4" textLength="71.9" lengthAdjust="spacingAndGlyphs">Etoile Filante</text>
<text x="347.5" y="458.9" textLength="73.2" lengthAdjust="spacingAndGlyphs">Etoile Du Soir</text>
<text x="540.2" y="434.4" textLength="102.0" lengthAdjust="spacingAndGlyphs">Avalement Baissier</text>
<text x="522.7" y="440.6" textLength="71.9" lengthAdjust="spacingAndGlyphs">Etoile Filante</text>
<text x="513.9" y="444.0" textLength="21.5" lengthAdjust="spacingAndGlyphs">Doji</text>
<text x="619.0" y="352.4" textLength="21.5" lengthAdjust="spacingAndGlyphs">Doji</text>
<text x="627.8" y="360.9" textLength="141.5" lengthAdjust="spacingAndGlyphs">Couverture En Nuage Noir</text>
<text x="627.8" y="360.4" textLength="21.5" lengthAdjust="spacingAndGlyphs">Doji</text>
<text x="645.3" y="368.1" textLength="141.5" lengthAdjust="spacingAndGlyphs">Couverture En Nuage Noir</text>
<text x="636.6" y="376.4" textLength="32.8" lengthAdjust="spacingAndGlyphs">Pendu</text>
<text x="785.5" y="163.9" textLength="73.2" lengthAdjust="spacingAndGlyphs">Etoile Du Soir</text>
<text x="785.5" y="163.9" textLength="21.5" lengthAdjust="spacingAndGlyphs">Doji</text>
<text x="794.2" y="183.7" textLength="102.0" lengthAdjust="spacingAndGlyphs">Avalement Baissier</text>
<text x="732.9" y="219.1" textLength="102.0" lengthAdjust="spacingAndGlyphs">Avalement Baissier</text>
<text x="750.4" y="228.0" textLength="21.5" lengthAdjust="spacingAndGlyphs">Doji</text>
<text x="768.0" y="227.1" textLength="21.5" lengthAdjust="spacingAndGlyphs">Doji</text>
<text x="715.4" y="248.0" textLength="32.8" lengthAdjust="spacingAndGlyphs">Pendu</text>
<text x="715.4" y="248.4" textLength="21.5" lengthAdjust="spacingAndGlyphs">Doji</text>
</g>
<polygon points="62.4,443.2 72.0,443.2 67.2,450.8" fill="rgba(0,0,0,0.72)"/>
<polygon points="97.4,430.7 107.0,430.7 102.2,438.3" fill="rgba(0,0,0,0.72)"/>
<polygon points="106.2,435.7 115.8,435.7 111.0,443.3" fill="rgba(0,0,0,0.72)"/>
<polygon points="228.8,523.8 238.4,523.8 233.6,516.2" fill="rgba(0,0,0,0.72)"/>
<polygon points="228.8,523.8 238.4,523.8 233.6,516.2" fill="rgba(0,0,0,0.72)"/>
<polygon points="342.7,465.1 352.3,465.1 347.5,472.7" fill="rgba(0,0,0,0.72)"/>
<polygon points="351.4,458.9 361.0,458.9 356.2,466.5" fill="rgba(0,0,0,0.72)"/>
<polygon points="351.4,458.9 361.0,458.9 356.2,466.5" fill="rgba(0,0,0,0.72)"/>
<polygon points="509.1,450.2 518.7,450.2 513.9,457.8" fill="rgba(0,0,0,0.72)"/>
<polygon points="517.9,447.5 527.5,447.5 522.7,455.1" fill="rgba(0,0,0,0.72)"/>
<polygon points="535.4,441.8 545.0,441.8 540.2,449.4" fill="rgba(0,0,0,0.72)"/>
<polygon points="614.2,358.3 623.8,358.3 619.0,365.9" fill="rgba(0,0,0,0.72)"/>
<polygon points="623.0,366.8 632.6,366.8 627.8,374.4" fill="rgba(0,0,0,0.72)"/>
<polygon points="623.0,366.8 632.6,366.8 627.8,374.4" fill="rgba(0,0,0,0.72)"/>
<polygon points="631.8,382.5 641.4,382.5 636.6,390.1" fill="rgba(0,0,0,0.72)"/>
<polygon points="640.5,375.0 650.1,375.0 645.3,382.6" fill="rgba(0,0,0,0.72)"/>
<polygon points="780.7,171.8 790.3,171.8 785.5,179.4" fill="rgba(0,0,0,0.72)"/>
<polygon points="780.7,171.8 790.3,171.8 785.5,179.4" fill="rgba(0,0,0,0.72)"/>
<polygon points="789.4,191.6 799.0,191.6 794.2,199.2" fill="rgba(0,0,0,0.72)"/>
<polygon points="728.1,226.6 737.7,226.6 732.9,234.2" fill="rgba(0,0,0,0.72)"/>
<polygon points="745.6,235.5 755.2,235.5 750.4,243.1" fill="rgba(0,0,0,0.72)"/>
<polygon points="763.2,234.6 772.8,234.6 768.0,242.2" fill="rgba(0,0,0,0.72)"/>
<polygon points="710.6,255.4 720.2,255.4 715.4,263.0" fill="rgba(0,0,0,0.72)"/>
<polygon points="710.6,255.4 720.2,255.4 715.4,263.0" fill="rgba(0,0,0,0.72)"/>
<rect x="57.80" y="458.3" width="1.2" height="12.7" fill="#26a69a"/>
<rect x="54.90" y="460.1" width="7" height="5.5" fill="#26a69a"/>
<rect x="66.56" y="457.3" width="1.2" height="10.2" fill="#ef5350"/>
<rect x="63.66" y="460.1" width="7" height="3.6" fill="#ef5350"/>
<rect x="75.32" y="455.2" width="1.2" height="16.3" fill="#26a69a"/>
<rect x="72.42" y="460.1" width="7" height="11.3" fill="#26a69a"/>
<rect x="84.08" y="457.3" width="1.2" height="6.4" fill="#ef5350"/>
<rect x="81.18" y="460.0" width="7" height="3.0" fill="#ef5350"/>
<rect x="92.84" y="453.3" width="1.2" height="12.5" fill="#26a69a"/>
<rect x="89.94" y="454.5" width="7" height="8.3" fill="#26a69a"/>
<rect x="101.60" y="446.0" width="1.2" height="14.6" fill="#26a69a"/>
<rect x="98.70" y="452.4" width="7" height="2.5" fill="#26a69a"/>
<rect x="110.36" y="450.1" width="1.2" height="21.8" fill="#ef5350"/>
<rect x="107.46" y="452.4" width="7" height="14.2" fill="#ef5350"/>
<rect x="119.12" y="456.7" width="1.2" height="17.0" fill="#ef5350"/>
<rect x="116.22" y="466.2" width="7" height="4.7" fill="#ef5350"/>
<rect x="127.88" y="459.0" width="1.2" height="16.6" fill="#26a69a"/>
<rect x="124.98" y="462.0" width="7" height="8.7" fill="#26a69a"/>
<rect x="136.64" y="459.0" width="1.2" height="9.5" fill="#ef5350"/>
<rect x="133.74" y="462.0" width="7" height="4.5" fill="#ef5350"/>
<rect x="145.40" y="465.3" width="1.2" height="8.5" fill="#ef5350"/>
<rect x="142.50" y="466.2" width="7" height="6.6" fill="#ef5350"/>
<rect x="154.16" y="472.4" width="1.2" height="11.2" fill="#ef5350"/>
<rect x="151.26" y="472.4" width="7" height="9.3" fill="#ef5350"/>
<rect x="162.92" y="477.2" width="1.2" height="12.7" fill="#ef5350"/>
<rect x="160.02" y="481.3" width="7" height="5.7" fill="#ef5350"/>
<rect x="171.68" y="478.5" width="1.2" height="10.8" fill="#26a69a"/>
<rect x="168.78" y="482.5" width="7" height="4.5" fill="#26a69a"/>
<rect x="180.44" y="475.7" width="1.2" height="9.1" fill="#26a69a"/>
<rect x="177.54" y="477.2" width="7" height="5.7" fill="#26a69a"/>
<rect x="189.20" y="474.3" width="1.2" height="8.5" fill="#ef5350"/>
<rect x="186.30" y="477.2" width="7" height="4.5" fill="#ef5350"/>
<rect x="197.96" y="480.4" width="1.2" height="16.1" fill="#ef5350"/>
<rect x="195.06" y="481.3" width="7" height="7.2" fill="#ef5350"/>
<rect x="206.72" y="486.1" width="1.2" height="11.3" fill="#ef5350"/>
<rect x="203.82" y="488.3" width="7" height="7.2" fill="#ef5350"/>
<rect x="215.48" y="489.3" width="1.2" height="19.5" fill="#ef5350"/>
<rect x="212.58" y="495.1" width="7" height="5.7" fill="#ef5350"/>
<rect x="224.24" y="498.4" width="1.2" height="10.4" fill="#ef5350"/>
<rect x="221.34" y="500.2" width="7" height="8.5" fill="#ef5350"/>
<rect x="233.00" y="503.7" width="1.2" height="7.0" fill="#26a69a"/>
<rect x="230.10" y="507.1" width="7" height="1.2" fill="#26a69a"/>
<rect x="241.76" y="502.3" width="1.2" height="5.3" fill="#26a69a"/>
<rect x="238.86" y="502.3" width="7" height="5.3" fill="#26a69a"/>
<rect x="250.52" y="495.5" width="1.2" height="8.1" fill="#26a69a"/>
<rect x="247.62" y="497.6" width="7" height="5.1" fill="#26a69a"/>
<rect x="259.28" y="487.4" width="1.2" height="12.5" fill="#26a69a"/>
<rect x="256.38" y="489.3" width="7" height="8.3" fill="#26a69a"/>
<rect x="268.04" y="486.4" width="1.2" height="10.0" fill="#ef5350"/>
<rect x="265.14" y="489.3" width="7" height="4.4" fill="#ef5350"/>
<rect x="276.80" y="489.3" width="1.2" height="12.9" fill="#ef5350"/>
<rect x="273.90" y="493.2" width="7" height="8.5" fill="#ef5350"/>
<rect x="285.56" y="495.5" width="1.2" height="11.3" fill="#26a69a"/>
<rect x="282.66" y="497.6" width="7" height="3.8" fill="#26a69a"/>
<rect x="294.32" y="494.0" width="1.2" height="6.6" fill="#26a69a"/>
<rect x="291.42" y="495.5" width="7" height="2.5" fill="#26a69a"/>
<rect x="303.08" y="487.0" width="1.2" height="20.8" fill="#26a69a"/>
<rect x="300.18" y="489.3" width="7" height="6.4" fill="#26a69a"/>
<rect x="311.84" y="484.5" width="1.2" height="9.1" fill="#ef5350"/>
<rect x="308.94" y="489.3" width="7" height="2.5" fill="#ef5350"/>
<rect x="320.60" y="484.2" width="1.2" height="11.0" fill="#26a69a"/>
<rect x="317.70" y="486.4" width="7" height="5.1" fill="#26a69a"/>
<rect x="329.36" y="481.7" width="1.2" height="7.2" fill="#26a69a"/>
<rect x="326.46" y="485.7" width="7" height="1.2" fill="#26a69a"/>
<rect x="338.12" y="477.5" width="1.2" height="17.0" fill="#26a69a"/>
<rect x="335.22" y="483.2" width="7" height="10.0" fill="#26a69a"/>
<rect x="346.88" y="479.3" width="1.2" height="5.7" fill="#26a69a"/>
<rect x="343.98" y="481.6" width="7" height="2.8" fill="#26a69a"/>
<rect x="355.64" y="473.1" width="1.2" height="14.8" fill="#ef5350"/>
<rect x="352.74" y="481.6" width="7" height="4.7" fill="#ef5350"/>
<rect x="364.40" y="482.1" width="1.2" height="10.4" fill="#ef5350"/>
<rect x="361.50" y="486.3" width="7" height="4.7" fill="#ef5350"/>
<rect x="373.16" y="489.7" width="1.2" height="9.8" fill="#ef5350"/>
<rect x="370.26" y="491.2" width="7" height="3.2" fill="#ef5350"/>
<rect x="381.92" y="491.6" width="1.2" height="11.0" fill="#ef5350"/>
<rect x="379.02" y="494.1" width="7" height="5.5" fill="#ef5350"/>
<rect x="390.68" y="494.4" width="1.2" height="13.2" fill="#ef5350"/>
<rect x="387.78" y="498.8" width="7" height="1.2" fill="#ef5350"/>
<rect x="399.44" y="498.2" width="1.2" height="9.5" fill="#ef5350"/>
<rect x="396.54" y="499.2" width="7" height="6.6" fill="#ef5350"/>
<rect x="408.20" y="494.4" width="1.2" height="11.3" fill="#26a69a"/>
<rect x="405.30" y="495.8" width="7" height="10.0" fill="#26a69a"/>
<rect x="416.96" y="490.3" width="1.2" height="10.8" fill="#26a69a"/>
<rect x="414.06" y="494.6" width="7" height="1.2" fill="#26a69a"/>
<rect x="425.72" y="485.0" width="1.2" height="12.7" fill="#26a69a"/>
<rect x="422.82" y="488.2" width="7" height="7.2" fill="#26a69a"/>
<rect x="434.48" y="486.3" width="1.2" height="9.5" fill="#ef5350"/>
<rect x="431.58" y="488.2" width="7" height="7.2" fill="#ef5350"/>
<rect x="443.24" y="484.0" width="1.2" height="19.9" fill="#26a69a"/>
<rect x="440.34" y="493.5" width="7" height="2.3" fill="#26a69a"/>
<rect x="452.00" y="492.0" width="1.2" height="5.3" fill="#ef5350"/>
<rect x="449.10" y="493.5" width="7" height="2.3" fill="#ef5350"/>
<rect x="460.76" y="481.2" width="1.2" height="17.6" fill="#26a69a"/>
<rect x="457.86" y="493.5" width="7" height="1.9" fill="#26a69a"/>
<rect x="469.52" y="484.4" width="1.2" height="16.3" fill="#26a69a"/>
<rect x="466.62" y="487.4" width="7" height="7.0" fill="#26a69a"/>
<rect x="478.28" y="471.2" width="1.2" height="17.6" fill="#26a69a"/>
<rect x="475.38" y="474.0" width="7" height="13.4" fill="#26a69a"/>
<rect x="487.04" y="468.0" width="1.2" height="15.7" fill="#ef5350"/>
<rect x="484.14" y="474.0" width="7" height="7.8" fill="#ef5350"/>
<rect x="495.80" y="468.0" width="1.2" height="15.7" fill="#26a69a"/>
<rect x="492.90" y="471.4" width="7" height="10.4" fill="#26a69a"/>
<rect x="504.56" y="466.2" width="1.2" height="8.3" fill="#26a69a"/>
<rect x="501.66" y="466.2" width="7" height="5.5" fill="#26a69a"/>
<rect x="513.32" y="464.5" width="1.2" height="10.0" fill="#ef5350"/>
<rect x="510.42" y="466.1" width="7" height="1.2" fill="#ef5350"/>
<rect x="522.08" y="461.0" width="1.2" height="7.0" fill="#26a69a"/>
<rect x="519.18" y="466.1" width="7" height="1.2" fill="#26a69a"/>
<rect x="530.84" y="458.1" width="1.2" height="8.5" fill="#26a69a"/>
<rect x="527.94" y="462.3" width="7" height="4.4" fill="#26a69a"/>
<rect x="539.60" y="456.2" width="1.2" height="11.3" fill="#ef5350"/>
<rect x="536.70" y="462.3" width="7" height="5.3" fill="#ef5350"/>
<rect x="548.36" y="454.3" width="1.2" height="14.9" fill="#26a69a"/>
<rect x="545.46" y="456.0" width="7" height="11.3" fill="#26a69a"/>
<rect x="557.12" y="450.9" width="1.2" height="7.6" fill="#26a69a"/>
<rect x="554.22" y="451.9" width="7" height="4.7" fill="#26a69a"/>
<rect x="565.88" y="442.4" width="1.2" height="12.3" fill="#26a69a"/>
<rect x="562.98" y="442.4" width="7" height="10.4" fill="#26a69a"/>
<rect x="574.64" y="433.3" width="1.2" height="13.2" fill="#26a69a"/>
<rect x="571.74" y="439.2" width="7" height="3.6" fill="#26a69a"/>
<rect x="583.40" y="420.3" width="1.2" height="21.2" fill="#26a69a"/>
<rect x="580.50" y="424.4" width="7" height="15.7" fill="#26a69a"/>
<rect x="592.16" y="424.4" width="1.2" height="7.9" fill="#ef5350"/>
<rect x="589.26" y="424.4" width="7" height="4.2" fill="#ef5350"/>
<rect x="600.92" y="415.0" width="1.2" height="26.5" fill="#26a69a"/>
<rect x="598.02" y="417.3" width="7" height="13.8" fill="#26a69a"/>
<rect x="609.68" y="403.1" width="1.2" height="14.2" fill="#26a69a"/>
<rect x="606.78" y="405.0" width="7" height="12.3" fill="#26a69a"/>
<rect x="618.44" y="373.5" width="1.2" height="37.3" fill="#26a69a"/>
<rect x="615.54" y="401.3" width="7" height="4.4" fill="#26a69a"/>
<rect x="627.20" y="381.1" width="1.2" height="27.4" fill="#ef5350"/>
<rect x="624.30" y="401.3" width="7" height="3.4" fill="#ef5350"/>
<rect x="635.96" y="397.1" width="1.2" height="18.0" fill="#26a69a"/>
<rect x="633.06" y="398.5" width="7" height="6.2" fill="#26a69a"/>
<rect x="644.72" y="389.2" width="1.2" height="14.2" fill="#ef5350"/>
<rect x="641.82" y="398.5" width="7" height="4.9" fill="#ef5350"/>
<rect x="653.48" y="390.5" width="1.2" height="15.1" fill="#26a69a"/>
<rect x="650.58" y="393.3" width="7" height="10.4" fill="#26a69a"/>
<rect x="662.24" y="387.1" width="1.2" height="9.1" fill="#26a69a"/>
<rect x="659.34" y="389.2" width="7" height="4.5" fill="#26a69a"/>
<rect x="671.00" y="339.4" width="1.2" height="50.5" fill="#26a69a"/>
<rect x="668.10" y="360.2" width="7" height="29.7" fill="#26a69a"/>
<rect x="679.76" y="340.4" width="1.2" height="20.2" fill="#26a69a"/>
<rect x="676.86" y="348.0" width="7" height="12.7" fill="#26a69a"/>
<rect x="688.52" y="308.2" width="1.2" height="46.3" fill="#26a69a"/>
<rect x="685.62" y="309.2" width="7" height="39.3" fill="#26a69a"/>
<rect x="697.28" y="293.1" width="1.2" height="16.5" fill="#26a69a"/>
<rect x="694.38" y="293.1" width="7" height="16.5" fill="#26a69a"/>
<rect x="706.04" y="270.4" width="1.2" height="43.5" fill="#26a69a"/>
<rect x="703.14" y="273.2" width="7" height="20.4" fill="#26a69a"/>
<rect x="714.80" y="269.6" width="1.2" height="13.2" fill="#26a69a"/>
<rect x="711.90" y="269.6" width="7" height="4.2" fill="#26a69a"/>
<rect x="723.56" y="228.0" width="1.2" height="56.7" fill="#26a69a"/>
<rect x="720.66" y="256.3" width="7" height="14.2" fill="#26a69a"/>
<rect x="732.32" y="241.2" width="1.2" height="38.8" fill="#ef5350"/>
<rect x="729.42" y="256.3" width="7" height="17.4" fill="#ef5350"/>
<rect x="741.08" y="257.3" width="1.2" height="21.8" fill="#26a69a"/>
<rect x="738.18" y="265.2" width="7" height="8.5" fill="#26a69a"/>
<rect x="749.84" y="249.7" width="1.2" height="19.9" fill="#26a69a"/>
<rect x="746.94" y="264.3" width="7" height="1.3" fill="#26a69a"/>
<rect x="758.60" y="248.8" width="1.2" height="17.0" fill="#26a69a"/>
<rect x="755.70" y="253.1" width="7" height="11.7" fill="#26a69a"/>
<rect x="767.36" y="248.8" width="1.2" height="13.2" fill="#26a69a"/>
<rect x="764.46" y="252.2" width="7" height="1.3" fill="#26a69a"/>
<rect x="776.12" y="209.0" width="1.2" height="48.2" fill="#26a69a"/>
<rect x="773.22" y="211.5" width="7" height="41.4" fill="#26a69a"/>
<rect x="784.88" y="186.3" width="1.2" height="32.2" fill="#26a69a"/>
<rect x="781.98" y="210.9" width="7" height="1.2" fill="#26a69a"/>
<rect x="793.64" y="206.2" width="1.2" height="42.6" fill="#ef5350"/>
<rect x="790.74" y="210.9" width="7" height="24.2" fill="#ef5350"/>
<rect x="802.40" y="232.1" width="1.2" height="42.6" fill="#ef5350"/>
<rect x="799.50" y="235.1" width="7" height="39.5" fill="#ef5350"/>
<rect x="811.16" y="264.3" width="1.2" height="20.4" fill="#ef5350"/>
<rect x="808.26" y="273.9" width="7" height="1.2" fill="#ef5350"/>
<rect x="819.92" y="270.1" width="1.2" height="10.8" fill="#ef5350"/>
<rect x="817.02" y="274.3" width="7" height="5.3" fill="#ef5350"/>
<rect x="828.68" y="278.0" width="1.2" height="54.9" fill="#ef5350"/>
<rect x="825.78" y="278.9" width="7" height="46.3" fill="#ef5350"/>
<rect x="837.44" y="303.1" width="1.2" height="28.7" fill="#26a69a"/>
<rect x="834.54" y="303.1" width="7" height="22.1" fill="#26a69a"/>
<rect x="846.20" y="288.4" width="1.2" height="28.4" fill="#26a69a"/>
<rect x="843.30" y="295.9" width="7" height="7.6" fill="#26a69a"/>
<rect x="854.96" y="293.1" width="1.2" height="37.8" fill="#ef5350"/>
<rect x="852.06" y="295.9" width="7" height="28.4" fill="#ef5350"/>
<rect x="51" y="269.5" width="1467" height="520" fill="rgba(156,39,176,0.2)"/>
<line x1="56" y1="269.5" x2="1518" y2="269.5" stroke="#9c27b0" stroke-width="1.15"/>
<rect x="698.5" y="201.5" width="254" height="123.8" fill="rgba(60,63,72,0.22)" stroke="#9c27b0" stroke-width="1.05"/>
<line x1="56" y1="131.5" x2="1518" y2="131.5" stroke="#f44336" stroke-width="1.2" />
<line x1="56" y1="259.5" x2="1518" y2="259.5" stroke="#f44336" stroke-width="1.2" />
<line x1="56" y1="346.5" x2="1518" y2="346.5" stroke="#f44336" stroke-width="1.2" />
<line x1="56" y1="297.5" x2="1518" y2="297.5" stroke="#2196f3" stroke-width="1.2" />
<line x1="56" y1="365.5" x2="1518" y2="365.5" stroke="#2196f3" stroke-width="1.2" />
<line x1="56" y1="323.4" x2="1518" y2="323.4" stroke="#e53e50" stroke-width="1.2" stroke-dasharray="1,2"/>
<line x1="56" y1="497.5" x2="1518" y2="497.5" stroke="#14051a" stroke-width="1.25" stroke-dasharray="5,6" stroke-dashoffset="1"/>
<line x1="56" y1="538.2" x2="1518" y2="498.8" stroke="#131313" stroke-width="1.1"/>
<polyline fill="none" stroke="#5a9c34" stroke-width="1.2" points="58.4,501.8 67.2,497.6 75.9,495.5 84.7,489.3 93.4,491.7 102.2,486.4 111.0,485.7 119.7,483.2 128.5,481.6 137.2,486.3 146.0,491.0 154.8,494.4 163.5,499.5 172.3,499.9 181.0,505.8 189.8,495.8 198.6,494.6 207.3,488.2 216.1,495.4 224.8,493.5 233.6,495.8 242.4,493.5 251.1,487.4 259.9,474.0 268.6,481.8 277.4,471.4 286.2,466.2 294.9,467.2 303.7,466.1 312.4,462.3 321.2,467.6 330.0,456.0 338.7,451.9 347.5,442.4 356.2,439.2 365.0,424.4 373.8,428.6 382.5,417.3 391.3,405.0 400.0,401.3 408.8,404.7 417.6,398.5 426.3,403.4 435.1,393.3 443.8,389.2 452.6,360.2 461.4,348.0 470.1,309.2 478.9,293.1 487.6,273.2 496.4,269.6 505.2,256.3 513.9,273.7 522.7,265.2 531.4,264.3 540.2,253.1 549.0,252.2 557.7,211.5 566.5,210.9 575.2,235.1 584.0,274.7 592.8,275.0 601.5,279.6 610.3,325.3 619.0,303.1 627.8,295.9 636.6,324.3" />
<line x1="855.2" y1="325.8" x2="881.7" y2="263.0" stroke="#000" stroke-width="1.1"/>
<line x1="881.7" y1="263.0" x2="874.8" y2="266.2" stroke="#000" stroke-width="1.1"/>
<line x1="881.7" y1="263.0" x2="884.2" y2="270.2" stroke="#000" stroke-width="1.1"/>
<line x1="881.3" y1="254.4" x2="907.8" y2="205.8" stroke="#000" stroke-width="1.1"/>
<line x1="907.8" y1="205.8" x2="900.6" y2="208.3" stroke="#000" stroke-width="1.1"/>
<line x1="907.8" y1="205.8" x2="909.6" y2="213.2" stroke="#000" stroke-width="1.1"/>
<line x1="855.2" y1="325.8" x2="863.7" y2="343.2" stroke="#000" stroke-width="1.1"/>
<line x1="863.7" y1="343.2" x2="865.8" y2="335.9" stroke="#000" stroke-width="1.1"/>
<line x1="863.7" y1="343.2" x2="856.6" y2="340.4" stroke="#000" stroke-width="1.1"/>
<line x1="863.7" y1="343.2" x2="873.2" y2="363.0" stroke="#000" stroke-width="1.1"/>
<line x1="873.2" y1="363.0" x2="875.4" y2="355.7" stroke="#000" stroke-width="1.1"/>
<line x1="873.2" y1="363.0" x2="866.2" y2="360.2" stroke="#000" stroke-width="1.1"/>
</g>
<g clip-path="url(#cps)">
<line x1="56" y1="800.5" x2="1512" y2="800.5" stroke="#1e1e1e" stroke-width="1.1" stroke-dasharray="5,6"/>
<line x1="56" y1="839.5" x2="1512" y2="839.5" stroke="#1e1e1e" stroke-width="1.1" stroke-dasharray="5,6"/>
<polyline fill="none" stroke="#ff8f2e" stroke-width="1.2" points="58.6,805.7 67.9,802.0 77.2,799.0 85.1,796.7 94.4,795.1 102.3,795.1 111.6,797.2 119.6,801.7 128.8,806.5 146.0,816.3 155.3,822.3 164.6,828.2 173.8,833.5 181.8,837.4 189.7,840.1 199.0,840.9 206.9,841.7 216.2,842.2 225.5,844.1 233.4,845.7 242.7,847.0 250.6,846.7 259.9,844.3 269.2,839.6 278.4,834.8 286.4,831.1 294.3,829.0 303.6,826.8 312.4,825.0 320.8,821.0 330.1,815.2 338.0,809.1 347.3,802.5 356.6,799.3 364.5,799.8 373.8,803.8 383.0,811.8 391.0,818.9 400.3,826.8 408.2,832.1 417.5,835.6 426.8,834.8 434.7,832.9 444.0,829.5 453.2,827.6 461.2,826.8 470.6,826.3 479.8,823.1 487.8,819.7 497.0,813.9 505.0,807.8 514.3,800.6 523.5,795.9 531.5,793.7 540.7,793.2 550.0,793.2 558.0,793.7 567.2,793.2 575.2,792.4 584.4,791.1 593.7,790.0 601.7,789.8 610.9,790.0 620.2,791.4 628.1,793.7 637.4,796.4 645.4,799.0 654.6,802.0 663.9,803.3 671.8,803.0 681.1,801.2 689.0,798.5 698.3,795.3 707.6,792.4 715.5,790.6 724.8,789.2 732.7,790.0 742.0,792.4 751.3,795.1 760.6,797.2 768.5,798.5 776.4,797.7 785.7,795.9 793.7,795.3 802.9,797.2 812.2,802.5 820.1,810.4 829.4,819.7 837.4,827.6 846.6,834.3 855.4,838.8" />
<polyline fill="none" stroke="#2e9bf5" stroke-width="1.2" points="58.6,801.2 67.9,797.7 77.2,795.6 85.1,794.5 94.4,794.5 102.3,795.9 111.6,801.2 119.6,806.5 128.8,809.6 146.0,822.3 155.3,826.8 164.6,831.6 173.8,837.4 181.8,839.6 189.7,842.2 199.0,841.4 206.9,842.2 216.2,842.2 225.5,846.2 233.4,847.5 242.7,847.5 250.6,844.9 259.9,840.4 269.2,833.5 278.4,831.1 286.4,829.0 294.3,826.8 303.6,825.3 312.4,823.1 320.8,815.7 330.1,808.3 338.0,803.0 347.3,797.7 356.6,798.0 364.5,803.8 373.8,810.4 383.0,818.4 391.0,826.3 400.3,834.3 408.2,836.1 417.5,836.9 426.8,832.4 434.7,831.1 444.0,826.3 453.2,826.3 461.2,825.8 470.6,825.5 479.8,817.8 487.8,814.9 497.0,806.5 505.0,799.0 514.3,794.0 523.5,794.5 531.5,791.4 540.7,794.0 550.0,794.5 558.0,793.7 567.2,791.9 575.2,791.4 584.4,788.7 593.7,789.8 601.7,789.8 610.9,790.6 620.2,793.2 628.1,796.4 637.4,798.5 645.4,801.7 654.6,804.6 663.9,803.0 671.8,801.7 681.1,799.0 689.0,795.1 698.3,792.7 707.6,790.6 715.5,788.4 724.8,789.8 732.7,792.7 742.0,795.1 751.3,797.2 760.6,799.8 768.5,798.5 776.4,795.3 785.7,794.5 793.7,795.9 802.9,801.2 812.2,808.3 820.1,817.0 829.4,829.0 837.4,835.6 846.6,839.0 855.4,842.2" />
</g>
<circle cx="855.2" cy="766.0" r="11" fill="rgba(255,255,255,0.15)" stroke="#f7a432" stroke-width="1.3"/>
<circle cx="855.2" cy="766.0" r="7.8" fill="#3f51b5"/>
<circle cx="859.8" cy="766.0" r="0.75" fill="#ffd54f"/>
<circle cx="858.9" cy="768.7" r="0.75" fill="#ffd54f"/>
<circle cx="856.6" cy="770.4" r="0.75" fill="#ffd54f"/>
<circle cx="853.8" cy="770.4" r="0.75" fill="#ffd54f"/>
<circle cx="851.5" cy="768.7" r="0.75" fill="#ffd54f"/>
<circle cx="850.6" cy="766.0" r="0.75" fill="#ffd54f"/>
<circle cx="851.5" cy="763.3" r="0.75" fill="#ffd54f"/>
<circle cx="853.8" cy="761.6" r="0.75" fill="#ffd54f"/>
<circle cx="856.6" cy="761.6" r="0.75" fill="#ffd54f"/>
<circle cx="858.9" cy="763.3" r="0.75" fill="#ffd54f"/>
<rect x="856.0" y="752.2" width="17" height="13" rx="6.5" fill="#fff"/>
<text x="864.5" y="762.5" font-size="10.5" text-anchor="middle" fill="#131722" font-family='&quot;Liberation Sans&quot;, sans-serif'>11</text>
<circle cx="890.5" cy="766.0" r="11" fill="rgba(255,255,255,0.15)" stroke="#f7a432" stroke-width="1.3"/>
<circle cx="890.5" cy="766.0" r="7.8" fill="#3f51b5"/>
<circle cx="895.1" cy="766.0" r="0.75" fill="#ffd54f"/>
<circle cx="894.2" cy="768.7" r="0.75" fill="#ffd54f"/>
<circle cx="891.9" cy="770.4" r="0.75" fill="#ffd54f"/>
<circle cx="889.1" cy="770.4" r="0.75" fill="#ffd54f"/>
<circle cx="886.8" cy="768.7" r="0.75" fill="#ffd54f"/>
<circle cx="885.9" cy="766.0" r="0.75" fill="#ffd54f"/>
<circle cx="886.8" cy="763.3" r="0.75" fill="#ffd54f"/>
<circle cx="889.1" cy="761.6" r="0.75" fill="#ffd54f"/>
<circle cx="891.9" cy="761.6" r="0.75" fill="#ffd54f"/>
<circle cx="894.2" cy="763.3" r="0.75" fill="#ffd54f"/>
<circle cx="881.5" cy="766.0" r="11" fill="rgba(255,255,255,0.15)" stroke="#f7a432" stroke-width="1.3"/>
<circle cx="881.5" cy="766.0" r="7.8" fill="#ef4560"/>
<rect x="880.2" y="761.5" width="2.6" height="9" fill="#fff"/>
<rect x="877.0" y="764.7" width="9" height="2.6" fill="#fff"/>
<rect x="883.6" y="752.2" width="13" height="13" rx="6.5" fill="#fff"/>
<text x="890.1" y="762.5" font-size="10.5" text-anchor="middle" fill="#131722" font-family='&quot;Liberation Sans&quot;, sans-serif'>2</text>
<rect x="892.7" y="752.2" width="13" height="13" rx="6.5" fill="#fff"/>
<text x="899.2" y="762.5" font-size="10.5" text-anchor="middle" fill="#131722" font-family='&quot;Liberation Sans&quot;, sans-serif'>5</text>
<circle cx="943.0" cy="766.0" r="11" fill="rgba(255,255,255,0.15)" stroke="#f7a432" stroke-width="1.3"/>
<circle cx="943.0" cy="766.0" r="7.8" fill="#3f51b5"/>
<circle cx="947.6" cy="766.0" r="0.75" fill="#ffd54f"/>
<circle cx="946.7" cy="768.7" r="0.75" fill="#ffd54f"/>
<circle cx="944.4" cy="770.4" r="0.75" fill="#ffd54f"/>
<circle cx="941.6" cy="770.4" r="0.75" fill="#ffd54f"/>
<circle cx="939.3" cy="768.7" r="0.75" fill="#ffd54f"/>
<circle cx="938.4" cy="766.0" r="0.75" fill="#ffd54f"/>
<circle cx="939.3" cy="763.3" r="0.75" fill="#ffd54f"/>
<circle cx="941.6" cy="761.6" r="0.75" fill="#ffd54f"/>
<circle cx="944.4" cy="761.6" r="0.75" fill="#ffd54f"/>
<circle cx="946.7" cy="763.3" r="0.75" fill="#ffd54f"/>
<rect x="945.2" y="752.2" width="13" height="13" rx="6.5" fill="#fff"/>
<text x="951.7" y="762.5" font-size="10.5" text-anchor="middle" fill="#131722" font-family='&quot;Liberation Sans&quot;, sans-serif'>8</text>
<circle cx="986.4" cy="741.8" r="11" fill="rgba(255,255,255,0.15)" stroke="#f23f5f" stroke-width="1.3"/>
<circle cx="986.4" cy="741.8" r="7.8" fill="#ef4560"/>
<rect x="985.1" y="737.3" width="2.6" height="9" fill="#fff"/>
<rect x="981.9" y="740.5" width="9" height="2.6" fill="#fff"/>
<rect x="989.0" y="728.0" width="13" height="13" rx="6.5" fill="#fff"/>
<text x="995.5" y="738.3" font-size="10.5" text-anchor="middle" fill="#131722" font-family='&quot;Liberation Sans&quot;, sans-serif'>3</text>
<circle cx="995.5" cy="766.0" r="11" fill="rgba(255,255,255,0.15)" stroke="#f7a432" stroke-width="1.3"/>
<circle cx="995.5" cy="766.0" r="7.8" fill="#3f51b5"/>
<circle cx="1000.1" cy="766.0" r="0.75" fill="#ffd54f"/>
<circle cx="999.2" cy="768.7" r="0.75" fill="#ffd54f"/>
<circle cx="996.9" cy="770.4" r="0.75" fill="#ffd54f"/>
<circle cx="994.1" cy="770.4" r="0.75" fill="#ffd54f"/>
<circle cx="991.8" cy="768.7" r="0.75" fill="#ffd54f"/>
<circle cx="990.9" cy="766.0" r="0.75" fill="#ffd54f"/>
<circle cx="991.8" cy="763.3" r="0.75" fill="#ffd54f"/>
<circle cx="994.1" cy="761.6" r="0.75" fill="#ffd54f"/>
<circle cx="996.9" cy="761.6" r="0.75" fill="#ffd54f"/>
<circle cx="999.2" cy="763.3" r="0.75" fill="#ffd54f"/>
<circle cx="986.4" cy="766.0" r="11" fill="rgba(255,255,255,0.15)" stroke="#f7a432" stroke-width="1.3"/>
<circle cx="986.4" cy="766.0" r="7.8" fill="#3f51b5"/>
<circle cx="991.0" cy="766.0" r="0.75" fill="#ffd54f"/>
<circle cx="990.1" cy="768.7" r="0.75" fill="#ffd54f"/>
<circle cx="987.8" cy="770.4" r="0.75" fill="#ffd54f"/>
<circle cx="985.0" cy="770.4" r="0.75" fill="#ffd54f"/>
<circle cx="982.7" cy="768.7" r="0.75" fill="#ffd54f"/>
<circle cx="981.8" cy="766.0" r="0.75" fill="#ffd54f"/>
<circle cx="982.7" cy="763.3" r="0.75" fill="#ffd54f"/>
<circle cx="985.0" cy="761.6" r="0.75" fill="#ffd54f"/>
<circle cx="987.8" cy="761.6" r="0.75" fill="#ffd54f"/>
<circle cx="990.1" cy="763.3" r="0.75" fill="#ffd54f"/>
<rect x="997.6" y="752.2" width="13" height="13" rx="6.5" fill="#fff"/>
<text x="1004.1" y="762.5" font-size="10.5" text-anchor="middle" fill="#131722" font-family='&quot;Liberation Sans&quot;, sans-serif'>7</text>
<circle cx="1048.3" cy="766.0" r="11" fill="rgba(255,255,255,0.15)" stroke="#f23f5f" stroke-width="1.3"/>
<circle cx="1048.3" cy="766.0" r="7.8" fill="#3f51b5"/>
<circle cx="1052.9" cy="766.0" r="0.75" fill="#ffd54f"/>
<circle cx="1052.0" cy="768.7" r="0.75" fill="#ffd54f"/>
<circle cx="1049.7" cy="770.4" r="0.75" fill="#ffd54f"/>
<circle cx="1046.9" cy="770.4" r="0.75" fill="#ffd54f"/>
<circle cx="1044.6" cy="768.7" r="0.75" fill="#ffd54f"/>
<circle cx="1043.7" cy="766.0" r="0.75" fill="#ffd54f"/>
<circle cx="1044.6" cy="763.3" r="0.75" fill="#ffd54f"/>
<circle cx="1046.9" cy="761.6" r="0.75" fill="#ffd54f"/>
<circle cx="1049.7" cy="761.6" r="0.75" fill="#ffd54f"/>
<circle cx="1052.0" cy="763.3" r="0.75" fill="#ffd54f"/>
<circle cx="1038.8" cy="766.0" r="11" fill="rgba(255,255,255,0.15)" stroke="#f7a432" stroke-width="1.3"/>
<circle cx="1038.8" cy="766.0" r="7.8" fill="#3f51b5"/>
<circle cx="1043.4" cy="766.0" r="0.75" fill="#ffd54f"/>
<circle cx="1042.5" cy="768.7" r="0.75" fill="#ffd54f"/>
<circle cx="1040.2" cy="770.4" r="0.75" fill="#ffd54f"/>
<circle cx="1037.4" cy="770.4" r="0.75" fill="#ffd54f"/>
<circle cx="1035.1" cy="768.7" r="0.75" fill="#ffd54f"/>
<circle cx="1034.2" cy="766.0" r="0.75" fill="#ffd54f"/>
<circle cx="1035.1" cy="763.3" r="0.75" fill="#ffd54f"/>
<circle cx="1037.4" cy="761.6" r="0.75" fill="#ffd54f"/>
<circle cx="1040.2" cy="761.6" r="0.75" fill="#ffd54f"/>
<circle cx="1042.5" cy="763.3" r="0.75" fill="#ffd54f"/>
<rect x="1050.5" y="752.2" width="13" height="13" rx="6.5" fill="#fff"/>
<text x="1057.0" y="762.5" font-size="10.5" text-anchor="middle" fill="#131722" font-family='&quot;Liberation Sans&quot;, sans-serif'>8</text>
<circle cx="1100.4" cy="766.0" r="11" fill="rgba(255,255,255,0.15)" stroke="#f7a432" stroke-width="1.3"/>
<circle cx="1100.4" cy="766.0" r="7.8" fill="#3f51b5"/>
<circle cx="1105.0" cy="766.0" r="0.75" fill="#ffd54f"/>
<circle cx="1104.1" cy="768.7" r="0.75" fill="#ffd54f"/>
<circle cx="1101.8" cy="770.4" r="0.75" fill="#ffd54f"/>
<circle cx="1099.0" cy="770.4" r="0.75" fill="#ffd54f"/>
<circle cx="1096.7" cy="768.7" r="0.75" fill="#ffd54f"/>
<circle cx="1095.8" cy="766.0" r="0.75" fill="#ffd54f"/>
<circle cx="1096.7" cy="763.3" r="0.75" fill="#ffd54f"/>
<circle cx="1099.0" cy="761.6" r="0.75" fill="#ffd54f"/>
<circle cx="1101.8" cy="761.6" r="0.75" fill="#ffd54f"/>
<circle cx="1104.1" cy="763.3" r="0.75" fill="#ffd54f"/>
<circle cx="1118.5" cy="766.0" r="11" fill="rgba(255,255,255,0.15)" stroke="#f7a432" stroke-width="1.3"/>
<circle cx="1118.5" cy="766.0" r="7.8" fill="#3f51b5"/>
<circle cx="1123.1" cy="766.0" r="0.75" fill="#ffd54f"/>
<circle cx="1122.2" cy="768.7" r="0.75" fill="#ffd54f"/>
<circle cx="1119.9" cy="770.4" r="0.75" fill="#ffd54f"/>
<circle cx="1117.1" cy="770.4" r="0.75" fill="#ffd54f"/>
<circle cx="1114.8" cy="768.7" r="0.75" fill="#ffd54f"/>
<circle cx="1113.9" cy="766.0" r="0.75" fill="#ffd54f"/>
<circle cx="1114.8" cy="763.3" r="0.75" fill="#ffd54f"/>
<circle cx="1117.1" cy="761.6" r="0.75" fill="#ffd54f"/>
<circle cx="1119.9" cy="761.6" r="0.75" fill="#ffd54f"/>
<circle cx="1122.2" cy="763.3" r="0.75" fill="#ffd54f"/>
<rect x="1102.5" y="752.2" width="13" height="13" rx="6.5" fill="#fff"/>
<text x="1109.0" y="762.5" font-size="10.5" text-anchor="middle" fill="#131722" font-family='&quot;Liberation Sans&quot;, sans-serif'>5</text>
<rect x="1120.7" y="752.2" width="13" height="13" rx="6.5" fill="#fff"/>
<text x="1127.2" y="762.5" font-size="10.5" text-anchor="middle" fill="#131722" font-family='&quot;Liberation Sans&quot;, sans-serif'>5</text>
</svg>
<div class="sep" style="left:155.9px;top:3px;height:38px"></div>
<div class="sep" style="left:193.7px;top:3px;height:38px"></div>
<div class="sep" style="left:232.8px;top:3px;height:38px"></div>
<div class="sep" style="left:340.0px;top:3px;height:38px"></div>
<div class="sep" style="left:475.8px;top:3px;height:38px"></div>
<div class="sep" style="left:593.1px;top:3px;height:38px"></div>
<div class="sep" style="left:754.8px;top:3px;height:38px"></div>
<div class="sep" style="left:838.8px;top:3px;height:38px"></div>
<div class="sep" style="left:926.8px;top:3px;height:38px"></div>
<div class="sep" style="left:989.9px;top:3px;height:38px"></div>
<div class="sep" style="left:1225.1px;top:3px;height:38px"></div>
<div class="sep" style="left:1263.9px;top:3px;height:38px"></div>
<div class="sep" style="left:1385.0px;top:3px;height:38px"></div>
<div class="sep" style="left:1424.1px;top:3px;height:38px"></div>
<div class="sep" style="left:1462.9px;top:3px;height:38px"></div>
<div class="abs" style="left:52px;top:40.5px;width:1530px;height:1.5px;background:#e0e3eb"></div>
<svg width="52" height="40" style="left:0;top:2px"><g stroke="#05050f" stroke-width="2.1" stroke-linecap="butt"><line x1="17" y1="14" x2="35" y2="14"/><line x1="17" y1="20" x2="35" y2="20"/><line x1="17" y1="25.9" x2="35" y2="25.9"/></g><circle cx="25.9" cy="32.9" r="2" fill="#b4b6c0"/></svg>
<div class="abs" style="left:0;top:40.8px;width:52px;height:1.4px;background:#e0e3eb"></div>
<span class="t" id="t1" style="top:14.35px;font-size:15.30px;color:#131722;font-weight:bold;left:65.40px;transform-origin:0 50%;transform:scaleX(0.8110);">EURCHF</span>
<span class="t" id="t2" style="top:13.88px;font-size:15.50px;color:#131722;left:167.90px;transform-origin:0 50%;transform:scaleX(0.8522);">4h</span>
<svg width="20" height="26" style="left:205px;top:9px" class="ic" stroke-width="1.15"><rect x="3.7" y="6.7" width="3.55" height="12.5"/><path d="M5.450 3.200V6.700M5.450 19.200V22.700"/><rect x="11.750" y="9.850" width="3.550" height="6.400"/><path d="M13.500 6.100V9.850M13.500 16.250V19.900"/></svg>
<svg width="22" height="22" style="left:241.75px;top:11.2px" class="ic" stroke-width="1.15"><circle cx="11" cy="11" r="8.8"/><line x1="6.7" y1="11" x2="15.3" y2="11"/><line x1="11" y1="6.7" x2="11" y2="15.3"/></svg>
<span class="t" id="t3" style="top:13.88px;font-size:15.50px;color:#131722;left:268.80px;transform-origin:0 50%;transform:scaleX(0.8822);">Comparer</span>
<svg width="18" height="24" style="left:351px;top:10px" class="ic"><path d="M13 5.1c-2.300-0.900-4.100 0-4.400 2.200L7.500 16c-.4 2.300-2.300 3.200-5 2.400"/><line x1="4.300" y1="10.500" x2="12.600" y2="10.500"/><line x1="10" y1="15.500" x2="14.600" y2="19.400"/><line x1="14.600" y1="15.500" x2="10" y2="19.400"/></svg>
<span class="t" id="t4" style="top:13.88px;font-size:15.50px;color:#131722;left:376.10px;transform-origin:0 50%;transform:scaleX(0.9231);">Indicateurs</span>
<svg width="10" height="8" style="left:461px;top:18.5px" class="ic"><path d="M1.5 2l3.5 3.4L8.5 2"/></svg>
<svg width="20" height="20" style="left:485.5px;top:11px" class="ic" stroke-linejoin="miter"><path stroke-linejoin="miter" stroke-linecap="butt" d="M1.9 18.2V12.4H7.2V18.2M7.2 12.4V8.5H12.7V18.2M12.7 8.5V4.5H18V18.2M1.3 18.2H18.6"/></svg>
<span class="t" id="t5" style="top:13.88px;font-size:15.50px;color:#131722;left:511.50px;transform-origin:0 50%;transform:scaleX(0.8998);">Financières</span>
<svg width="22" height="20" style="left:603px;top:11px" class="ic"><path d="M2 8.5L6.8 3.9L12.1 8.5L18.8 3.2"/><path stroke-linecap="butt" d="M2.4 15.1V18.6M6.4 12.4V18.6M10.7 15.1V18.6M14.7 13.8V18.6M18.8 12.4V18.6"/></svg>
<span class="t" id="t6" style="top:13.88px;font-size:15.50px;color:#131722;left:629.00px;transform-origin:0 50%;transform:scaleX(0.8865);">Espaces de Travail</span>
<svg width="24" height="24" style="left:763px;top:10px" class="ic"><path d="M12.8 20.3A8.3 8.3 0 1 1 19.4 13.4"/><path d="M11.2 7.2V12.4H8"/><path d="M2.6 8.6A3.9 3.9 0 0 1 7.9 3.5"/><path d="M14.4 3.5A3.9 3.9 0 0 1 19.9 8.6"/><path d="M17.5 14V22.4M13.3 18.2H21.7"/></svg>
<span class="t" id="t7" style="top:13.88px;font-size:15.50px;color:#131722;left:790.80px;transform-origin:0 50%;transform:scaleX(0.9580);">Alerte</span>
<svg width="20" height="16" style="left:850px;top:14px" class="ic"><path d="M8.2 2.8v10.4L2 8z"/><path d="M16.6 2.8v10.4L10.4 8z"/></svg>
<span class="t" id="t8" style="top:13.88px;font-size:15.50px;color:#131722;left:875.80px;transform-origin:0 50%;transform:scaleX(0.8705);">Replay</span>
<svg width="18" height="14" style="left:935.6px;top:14.6px" class="ic"><path d="M7.4 2.6L2.8 6.3L7.4 10M2.8 6.3H10.6a4.200 4.200 0 0 1 4.200 4.200v1.600"/></svg>
<svg width="18" height="14" style="left:963.5px;top:14.6px" class="ic"><path stroke="#c3c6ce" d="M10.400 2.600L15 6.300L10.400 10M15 6.300H7.200a4.200 4.200 0 0 0 -4.200 4.200v1.600"/></svg>
<svg width="22" height="20" style="left:1234.5px;top:12.5px" class="ic"><rect x="1.8" y="2" width="18" height="15.4" rx="2.4"/></svg>
<svg width="28" height="18" style="left:1270px;top:13px" class="ic"><path d="M7 15.8H6.2A4.2 4.2 0 0 1 5.4 7.6 6.2 6.2 0 0 1 17 5.6a5.2 5.2 0 0 1 3.6 10.2H7" stroke-dasharray="2.6,2"/></svg>
<span class="t" id="t9" style="top:13.88px;font-size:15.50px;color:#131722;left:1300.20px;transform-origin:0 50%;transform:scaleX(0.8733);">Unnamed</span>
<svg width="10" height="8" style="left:1370px;top:18.5px" class="ic"><path d="M1.2 2l3.8 3.6L8.8 2"/></svg>
<svg width="24" height="24" style="left:1393px;top:10px" class="ic"><path d="M21.67,10.19 L21.67,13.41 L19.08,13.56 L18.25,15.57 L19.97,17.50 L17.70,19.77 L15.77,18.05 L13.76,18.88 L13.61,21.47 L10.39,21.47 L10.24,18.88 L8.23,18.05 L6.30,19.77 L4.03,17.50 L5.75,15.57 L4.92,13.56 L2.33,13.41 L2.33,10.19 L4.92,10.04 L5.75,8.03 L4.03,6.10 L6.30,3.83 L8.23,5.55 L10.24,4.72 L10.39,2.13 L13.61,2.13 L13.76,4.72 L15.77,5.55 L17.70,3.83 L19.97,6.10 L18.25,8.03 L19.08,10.04Z" stroke-linejoin="round"/><circle cx="12" cy="11.8" r="3.1"/></svg>
<svg width="20" height="20" style="left:1434px;top:12px" class="ic"><path d="M2 6.6V2.4h4.2M2 2.4l5 5M18 6.6V2.4h-4.2M18 2.4l-5 5M2 13.4v4.2h4.2M2 17.6l5-5M18 13.4v4.2h-4.2M18 17.6l-5-5"/></svg>
<svg width="26" height="20" style="left:1470px;top:12px" class="ic"><path d="M4.6 4.4h2.8l1.4-2h8.4l1.4 2h2.8a2 2 0 0 1 2 2v9.4a2 2 0 0 1 -2 2H4.6a2 2 0 0 1 -2 -2V6.4a2 2 0 0 1 2 -2z"/><circle cx="13" cy="10.6" r="4"/></svg>
<div class="abs" style="left:1502px;top:3px;width:80px;height:37.5px;background:#2196f3"></div>
<span class="t" id="t10" style="top:14.43px;font-size:15.20px;color:#fff;left:1517.80px;transform-origin:0 50%;transform:scaleX(1.0237);">Publier</span>
<span class="t" id="t11" style="top:50.09px;font-size:16.20px;color:#131722;left:65.00px;transform-origin:0 50%;transform:scaleX(0.9665);">Euro / Franc Suisse</span>
<span class="t" id="t12" style="top:50.09px;font-size:16.20px;color:#9598a1;left:205.00px;transform-origin:0 50%;">·</span>
<span class="t" id="t13" style="top:50.09px;font-size:16.20px;color:#131722;left:213.80px;transform-origin:0 50%;transform:scaleX(0.9769);">4h</span>
<span class="t" id="t14" style="top:50.09px;font-size:16.20px;color:#9598a1;left:234.20px;transform-origin:0 50%;">·</span>
<span class="t" id="t15" style="top:50.09px;font-size:16.20px;color:#131722;left:243.30px;transform-origin:0 50%;transform:scaleX(0.8395);">FXCM</span>
<div class="abs" style="left:296.9px;top:49.2px;width:17.6px;height:17.6px;border-radius:50%;background:#f0f1f5"></div>
<div class="abs" style="left:300.8px;top:56.1px;width:10px;height:3.7px;border-radius:1.85px;background:#8a8d97"></div>
<span class="t" id="t16" style="top:54.37px;font-size:12.20px;color:#5d606b;left:330.30px;transform-origin:0 50%;transform:scaleX(0.9911);">O</span>
<span class="t" id="t17" style="top:54.37px;font-size:12.20px;color:#ef5350;left:340.40px;transform-origin:0 50%;transform:scaleX(1.0462);">1.09907</span>
<span class="t" id="t18" style="top:54.37px;font-size:12.20px;color:#5d606b;left:391.80px;transform-origin:0 50%;transform:scaleX(0.9986);">H</span>
<span class="t" id="t19" style="top:54.37px;font-size:12.20px;color:#ef5350;left:401.40px;transform-origin:0 50%;transform:scaleX(1.0462);">1.09938</span>
<span class="t" id="t20" style="top:54.37px;font-size:12.20px;color:#5d606b;left:452.90px;transform-origin:0 50%;transform:scaleX(1.0073);">B</span>
<span class="t" id="t21" style="top:54.37px;font-size:12.20px;color:#ef5350;left:461.90px;transform-origin:0 50%;transform:scaleX(1.0349);">1.09576</span>
<span class="t" id="t22" style="top:54.37px;font-size:12.20px;color:#5d606b;left:512.90px;transform-origin:0 50%;transform:scaleX(0.9759);">C</span>
<span class="t" id="t23" style="top:54.37px;font-size:12.20px;color:#ef5350;left:522.00px;transform-origin:0 50%;transform:scaleX(1.0462);">1.09650</span>
<span class="t" id="t24" style="top:54.37px;font-size:12.20px;color:#ef5350;left:573.40px;transform-origin:0 50%;transform:scaleX(1.0215);">−0.00257 (−0.23%)</span>
<div class="abs" style="left:64.3px;top:74.3px;width:60.6px;height:23.4px;border-radius:3px;background:#ef5350"></div>
<div class="abs" style="left:156.1px;top:74.3px;width:60.8px;height:23.4px;border-radius:3px;background:#2196f3"></div>
<span class="t" id="t25" style="top:80.76px;font-size:12.10px;color:#fff;left:71.80px;transform-origin:0 50%;transform:scaleX(1.0486);">1.0965</span>
<span class="t" id="t26" style="top:80.46px;font-size:10.80px;color:#fff;left:110.80px;transform-origin:0 50%;">0</span>
<span class="t" id="t27" style="top:80.76px;font-size:12.10px;color:#fff;left:163.70px;transform-origin:0 50%;transform:scaleX(1.0486);">1.0965</span>
<span class="t" id="t28" style="top:80.46px;font-size:10.80px;color:#fff;left:202.50px;transform-origin:0 50%;">0</span>
<span class="t" id="t29" style="top:80.77px;font-size:10.90px;color:#6a6d78;left:132.30px;transform-origin:0 50%;transform:scaleX(1.0766);">0.0</span>
<div class="abs" style="left:65.2px;top:104.2px;width:31.6px;height:20.8px;border-radius:3px;border:1px solid #d1d4dc;background:#fff"></div>
<svg width="10" height="8" style="left:70.6px;top:110.6px" class="ic" stroke-width="1.4"><path d="M1.6 2.2l3.2 3 3.2-3" stroke-width="1.4"/></svg>
<span class="t" id="t30" style="top:108.87px;font-size:12.20px;color:#131722;left:84.40px;transform-origin:0 50%;">4</span>
<span class="t" id="t31" style="top:118.61px;font-size:11.80px;color:#000;right:75.30px;transform-origin:100% 50%;transform:scaleX(1.0359);">0.5(1.11505)</span>
<span class="t" id="t32" style="top:484.61px;font-size:11.80px;color:#000;right:75.90px;transform-origin:100% 50%;transform:scaleX(1.0271);">0.382(1.07967)</span>
<span class="t" id="t33" style="top:135.84px;font-size:12.20px;color:#2196f3;font-family:'DejaVu Sans', sans-serif;right:74.90px;transform-origin:100% 50%;transform:scaleX(0.9927);-webkit-text-stroke:0;">ancien plat SSB kijun mensuel</span>
<span class="t" id="t34" style="top:263.64px;font-size:12.20px;color:#2196f3;font-family:'DejaVu Sans', sans-serif;right:75.40px;transform-origin:100% 50%;transform:scaleX(0.9802);-webkit-text-stroke:0;">tenkan H4</span>
<span class="t" id="t35" style="top:301.04px;font-size:12.20px;color:#2196f3;font-family:'DejaVu Sans', sans-serif;right:74.90px;transform-origin:100% 50%;transform:scaleX(0.9904);-webkit-text-stroke:0;">kijun mensuel</span>
<span class="t" id="t36" style="top:350.44px;font-size:12.20px;color:#2196f3;font-family:'DejaVu Sans', sans-serif;right:74.90px;transform-origin:100% 50%;transform:scaleX(0.9920);-webkit-text-stroke:0;">tenkan journalière</span>
<span class="t" id="t37" style="top:369.14px;font-size:12.20px;color:#2196f3;font-family:'DejaVu Sans', sans-serif;right:74.90px;transform-origin:100% 50%;transform:scaleX(0.9997);-webkit-text-stroke:0;">kijun journaliere</span>
<div class="abs" style="left:1518px;top:42px;width:1px;height:841px;background:#e0e3eb"></div>
<div class="abs" style="left:56px;top:853.8px;width:1526px;height:1px;background:#dcdee4"></div>
<div class="abs" style="left:56px;top:780.3px;width:1526px;height:1px;background:#e4e6ec"></div>
<div class="abs" style="left:56px;top:881.6px;width:1526px;height:1.4px;background:#e0e3eb"></div>
<div class="abs" style="left:1518.5px;top:79.9px;width:4.5px;height:1px;background:#d0d3da"></div>
<span class="t" id="t38" style="top:74.84px;font-size:12.00px;color:#131722;left:1527.70px;transform-origin:0 50%;transform:scaleX(0.9841);">1.12000</span>
<div class="abs" style="left:1518.5px;top:131.6px;width:4.5px;height:1px;background:#d0d3da"></div>
<span class="t" id="t39" style="top:126.53px;font-size:12.00px;color:#131722;left:1527.70px;transform-origin:0 50%;transform:scaleX(1.0047);">1.11500</span>
<div class="abs" style="left:1518.5px;top:183.3px;width:4.5px;height:1px;background:#d0d3da"></div>
<span class="t" id="t40" style="top:178.22px;font-size:12.00px;color:#131722;left:1527.70px;transform-origin:0 50%;transform:scaleX(1.0047);">1.11000</span>
<div class="abs" style="left:1518.5px;top:235.0px;width:4.5px;height:1px;background:#d0d3da"></div>
<span class="t" id="t41" style="top:229.91px;font-size:12.00px;color:#131722;left:1527.70px;transform-origin:0 50%;transform:scaleX(0.9841);">1.10500</span>
<div class="abs" style="left:1518.5px;top:286.7px;width:4.5px;height:1px;background:#d0d3da"></div>
<span class="t" id="t42" style="top:281.60px;font-size:12.00px;color:#131722;left:1527.70px;transform-origin:0 50%;transform:scaleX(0.9841);">1.10000</span>
<div class="abs" style="left:1518.5px;top:338.3px;width:4.5px;height:1px;background:#d0d3da"></div>
<span class="t" id="t43" style="top:333.29px;font-size:12.00px;color:#131722;left:1527.70px;transform-origin:0 50%;transform:scaleX(0.9841);">1.09500</span>
<div class="abs" style="left:1518.5px;top:390.0px;width:4.5px;height:1px;background:#d0d3da"></div>
<span class="t" id="t44" style="top:384.98px;font-size:12.00px;color:#131722;left:1527.70px;transform-origin:0 50%;transform:scaleX(0.9841);">1.09000</span>
<div class="abs" style="left:1518.5px;top:441.7px;width:4.5px;height:1px;background:#d0d3da"></div>
<span class="t" id="t45" style="top:436.67px;font-size:12.00px;color:#131722;left:1527.70px;transform-origin:0 50%;transform:scaleX(0.9841);">1.08500</span>
<div class="abs" style="left:1518.5px;top:493.4px;width:4.5px;height:1px;background:#d0d3da"></div>
<span class="t" id="t46" style="top:488.36px;font-size:12.00px;color:#131722;left:1527.70px;transform-origin:0 50%;transform:scaleX(0.9841);">1.08000</span>
<div class="abs" style="left:1518.5px;top:545.1px;width:4.5px;height:1px;background:#d0d3da"></div>
<span class="t" id="t47" style="top:540.05px;font-size:12.00px;color:#131722;left:1527.70px;transform-origin:0 50%;transform:scaleX(0.9841);">1.07500</span>
<div class="abs" style="left:1518.5px;top:596.8px;width:4.5px;height:1px;background:#d0d3da"></div>
<span class="t" id="t48" style="top:591.74px;font-size:12.00px;color:#131722;left:1527.70px;transform-origin:0 50%;transform:scaleX(0.9841);">1.07000</span>
<div class="abs" style="left:1518.5px;top:648.5px;width:4.5px;height:1px;background:#d0d3da"></div>
<span class="t" id="t49" style="top:643.43px;font-size:12.00px;color:#131722;left:1527.70px;transform-origin:0 50%;transform:scaleX(0.9841);">1.06500</span>
<div class="abs" style="left:1518.5px;top:700.2px;width:4.5px;height:1px;background:#d0d3da"></div>
<span class="t" id="t50" style="top:695.12px;font-size:12.00px;color:#131722;left:1527.70px;transform-origin:0 50%;transform:scaleX(0.9841);">1.06000</span>
<div class="abs" style="left:1518.5px;top:751.9px;width:4.5px;height:1px;background:#d0d3da"></div>
<span class="t" id="t51" style="top:746.81px;font-size:12.00px;color:#131722;left:1527.70px;transform-origin:0 50%;transform:scaleX(0.9841);">1.05500</span>
<div class="abs" style="left:1518.5px;top:786.0px;width:4.5px;height:1px;background:#d0d3da"></div>
<span class="t" id="t52" style="top:780.74px;font-size:12.00px;color:#131722;left:1527.70px;transform-origin:0 50%;transform:scaleX(1.0026);">100.00</span>
<div class="abs" style="left:1518.5px;top:819.0px;width:4.5px;height:1px;background:#d0d3da"></div>
<span class="t" id="t53" style="top:813.74px;font-size:12.00px;color:#131722;left:1527.70px;transform-origin:0 50%;transform:scaleX(1.0123);">50.00</span>
<div class="abs" style="left:1519px;top:842px;width:63px;height:12px;overflow:hidden"><span class="t" id="t54" style="top:5.44px;font-size:12.00px;color:#131722;left:8.70px;transform-origin:0 50%;transform:scaleX(1.0274);">0.00</span></div>
<div class="abs" style="left:1518px;top:123.2px;width:59px;height:17px;border-radius:0 2px 2px 0;background:#f44336"></div>
<div class="abs" style="left:1518.5px;top:131.5px;width:4.5px;height:1px;background:#fff"></div>
<span class="t" id="t55" style="top:125.94px;font-size:12.00px;color:#fff;left:1527.70px;transform-origin:0 50%;transform:scaleX(1.0047);">1.11501</span>
<div class="abs" style="left:1518px;top:250.7px;width:59px;height:17px;border-radius:0 2px 2px 0;background:#f44336"></div>
<div class="abs" style="left:1518.5px;top:258.5px;width:4.5px;height:1px;background:#fff"></div>
<span class="t" id="t56" style="top:254.14px;font-size:12.00px;color:#fff;left:1527.70px;transform-origin:0 50%;transform:scaleX(0.9841);">1.10270</span>
<div class="abs" style="left:1518px;top:288.8px;width:59px;height:17px;border-radius:0 2px 2px 0;background:#2196f3"></div>
<div class="abs" style="left:1518.5px;top:296.5px;width:4.5px;height:1px;background:#fff"></div>
<span class="t" id="t57" style="top:291.54px;font-size:12.00px;color:#fff;left:1527.70px;transform-origin:0 50%;transform:scaleX(0.9841);">1.09900</span>
<div class="abs" style="left:1518px;top:314.7px;width:59px;height:17px;border-radius:0 2px 2px 0;background:#ef5350"></div>
<div class="abs" style="left:1518.5px;top:322.5px;width:4.5px;height:1px;background:#fff"></div>
<span class="t" id="t58" style="top:318.14px;font-size:12.00px;color:#fff;left:1527.70px;transform-origin:0 50%;transform:scaleX(0.9841);">1.09650</span>
<div class="abs" style="left:1518px;top:337.8px;width:59px;height:17px;border-radius:0 2px 2px 0;background:#f44336"></div>
<div class="abs" style="left:1518.5px;top:345.5px;width:4.5px;height:1px;background:#fff"></div>
<span class="t" id="t59" style="top:340.54px;font-size:12.00px;color:#fff;left:1527.70px;transform-origin:0 50%;transform:scaleX(0.9841);">1.09424</span>
<div class="abs" style="left:1518px;top:356.9px;width:59px;height:17px;border-radius:0 2px 2px 0;background:#2196f3"></div>
<div class="abs" style="left:1518.5px;top:364.5px;width:4.5px;height:1px;background:#fff"></div>
<span class="t" id="t60" style="top:359.64px;font-size:12.00px;color:#fff;left:1527.70px;transform-origin:0 50%;transform:scaleX(0.9841);">1.09239</span>
<div class="abs" style="left:1534.2px;top:47.8px;width:31.4px;height:19px;border-radius:3px;border:1px solid #d1d4dc;background:#fff"></div>
<span class="t" id="t61" style="top:51.12px;font-size:11.20px;color:#131722;left:1538.80px;transform-origin:0 50%;transform:scaleX(0.9739);">CHF</span>
<div class="abs" style="left:84px;top:855px;width:1px;height:3.5px;background:#d0d3da"></div>
<span class="t" id="t62" style="top:862.24px;font-size:12.00px;color:#131722;left:84.88px;transform-origin:50% 50%;transform:translateX(-50%) scaleX(0.9720);">8</span>
<div class="abs" style="left:189px;top:855px;width:1px;height:3.5px;background:#d0d3da"></div>
<span class="t" id="t63" style="top:862.24px;font-size:12.00px;color:#131722;left:190.00px;transform-origin:50% 50%;transform:translateX(-50%) scaleX(1.0030);">10</span>
<div class="abs" style="left:347px;top:855px;width:1px;height:3.5px;background:#d0d3da"></div>
<span class="t" id="t64" style="top:862.24px;font-size:12.00px;color:#131722;left:347.68px;transform-origin:50% 50%;transform:translateX(-50%) scaleX(1.0030);">15</span>
<div class="abs" style="left:452px;top:855px;width:1px;height:3.5px;background:#d0d3da"></div>
<span class="t" id="t65" style="top:862.24px;font-size:12.00px;color:#131722;left:452.80px;transform-origin:50% 50%;transform:translateX(-50%) scaleX(1.0030);">17</span>
<div class="abs" style="left:610px;top:855px;width:1px;height:3.5px;background:#d0d3da"></div>
<span class="t" id="t66" style="top:862.24px;font-size:12.00px;color:#131722;left:610.48px;transform-origin:50% 50%;transform:translateX(-50%) scaleX(1.0030);">22</span>
<div class="abs" style="left:715px;top:855px;width:1px;height:3.5px;background:#d0d3da"></div>
<span class="t" id="t67" style="top:862.24px;font-size:12.00px;color:#131722;left:715.60px;transform-origin:50% 50%;transform:translateX(-50%) scaleX(1.0030);">24</span>
<div class="abs" style="left:873px;top:855px;width:1px;height:3.5px;background:#d0d3da"></div>
<span class="t" id="t68" style="top:862.24px;font-size:12.00px;color:#131722;font-weight:bold;left:873.28px;transform-origin:50% 50%;transform:translateX(-50%) scaleX(0.8924);">Mars</span>
<div class="abs" style="left:978px;top:855px;width:1px;height:3.5px;background:#d0d3da"></div>
<span class="t" id="t69" style="top:862.24px;font-size:12.00px;color:#131722;left:978.40px;transform-origin:50% 50%;transform:translateX(-50%) scaleX(0.9720);">3</span>
<div class="abs" style="left:1135px;top:855px;width:1px;height:3.5px;background:#d0d3da"></div>
<span class="t" id="t70" style="top:862.24px;font-size:12.00px;color:#131722;left:1136.08px;transform-origin:50% 50%;transform:translateX(-50%) scaleX(0.9720);">8</span>
<div class="abs" style="left:1241px;top:855px;width:1px;height:3.5px;background:#d0d3da"></div>
<span class="t" id="t71" style="top:862.24px;font-size:12.00px;color:#131722;left:1241.20px;transform-origin:50% 50%;transform:translateX(-50%) scaleX(1.0030);">10</span>
<div class="abs" style="left:1398px;top:855px;width:1px;height:3.5px;background:#d0d3da"></div>
<span class="t" id="t72" style="top:862.24px;font-size:12.00px;color:#131722;left:1398.88px;transform-origin:50% 50%;transform:translateX(-50%) scaleX(1.0030);">15</span>
<div class="abs" style="left:1503px;top:855px;width:1px;height:3.5px;background:#d0d3da"></div>
<span class="t" id="t73" style="top:862.24px;font-size:12.00px;color:#131722;left:1504.00px;transform-origin:50% 50%;transform:translateX(-50%) scaleX(1.0030);">17</span>
<svg width="20" height="20" style="left:1540.6px;top:858.4px" class="ic" stroke-width="1.2"><circle cx="10" cy="10" r="4.7"/><line x1="15.9" y1="10.0" x2="17.5" y2="10.0"/><line x1="14.2" y1="14.2" x2="15.3" y2="15.3"/><line x1="10.0" y1="15.9" x2="10.0" y2="17.5"/><line x1="5.8" y1="14.2" x2="4.7" y2="15.3"/><line x1="4.1" y1="10.0" x2="2.5" y2="10.0"/><line x1="5.8" y1="5.8" x2="4.7" y2="4.7"/><line x1="10.0" y1="4.1" x2="10.0" y2="2.5"/><line x1="14.2" y1="5.8" x2="15.3" y2="4.7"/></svg>
<span class="t" id="t74" style="top:893.98px;font-size:15.50px;color:#131722;left:71.90px;transform-origin:0 50%;transform:scaleX(0.8069);">1D</span>
<span class="t" id="t75" style="top:893.98px;font-size:15.50px;color:#131722;left:101.90px;transform-origin:0 50%;transform:scaleX(0.8069);">5D</span>
<span class="t" id="t76" style="top:893.98px;font-size:15.50px;color:#131722;left:131.80px;transform-origin:0 50%;transform:scaleX(0.8307);">1M</span>
<span class="t" id="t77" style="top:893.98px;font-size:15.50px;color:#131722;left:162.70px;transform-origin:0 50%;transform:scaleX(0.8447);">3M</span>
<span class="t" id="t78" style="top:893.98px;font-size:15.50px;color:#131722;left:193.90px;transform-origin:0 50%;transform:scaleX(0.8632);">6M</span>
<span class="t" id="t79" style="top:893.98px;font-size:15.50px;color:#131722;left:225.40px;transform-origin:0 50%;transform:scaleX(0.8129);">YTD</span>
<span class="t" id="t80" style="top:893.98px;font-size:15.50px;color:#131722;left:264.80px;transform-origin:0 50%;transform:scaleX(0.7802);">1Y</span>
<span class="t" id="t81" style="top:893.98px;font-size:15.50px;color:#131722;left:293.50px;transform-origin:0 50%;transform:scaleX(0.8119);">5Y</span>
<span class="t" id="t82" style="top:893.98px;font-size:15.50px;color:#131722;left:322.50px;transform-origin:0 50%;transform:scaleX(0.9393);">Toutes</span>
<div class="sep" style="left:381px;top:891px;height:21.5px"></div>
<svg width="20" height="20" style="left:397px;top:892.4px" class="ic"><path d="M4.6 7.6V5.2a2 2 0 0 1 2-2h9.2a2 2 0 0 1 2 2v9.8a2 2 0 0 1 -2 2h-5.4M4.6 7h13.2M8 1.6v3.2M14.4 1.6v3.2M1.4 12.4h7.4M6 9.4l3 3-3 3"/></svg>
<span class="t" id="t83" style="top:893.98px;font-size:15.50px;color:#131722;left:1303.20px;transform-origin:0 50%;transform:scaleX(0.8874);">14:44:50 (UTC)</span>
<div class="sep" style="left:1413.7px;top:891px;height:21.5px"></div>
<span class="t" id="t84" style="top:893.98px;font-size:15.50px;color:#131722;left:1431.30px;transform-origin:0 50%;transform:scaleX(1.0002);">%</span>
<span class="t" id="t85" style="top:893.98px;font-size:15.50px;color:#131722;left:1458.50px;transform-origin:0 50%;transform:scaleX(0.9378);">log</span>
<span class="t" id="t86" style="top:893.98px;font-size:15.50px;color:#131722;left:1491.10px;transform-origin:0 50%;transform:scaleX(0.9448);">automatique</span>
<span class="t" id="t87" style="top:936.28px;font-size:15.50px;color:#131722;left:71.30px;transform-origin:0 50%;transform:scaleX(0.8930);">Screener Forex</span>
<span class="t" id="t88" style="top:936.28px;font-size:15.50px;color:#131722;left:205.90px;transform-origin:0 50%;transform:scaleX(0.9280);">Notes de Texte</span>
<span class="t" id="t89" style="top:936.28px;font-size:15.50px;color:#131722;left:334.20px;transform-origin:0 50%;transform:scaleX(0.9141);">Editeur Pine</span>
<span class="t" id="t90" style="top:936.28px;font-size:15.50px;color:#131722;left:443.50px;transform-origin:0 50%;transform:scaleX(0.9363);">Testeur de Stratégie</span>
<span class="t" id="t91" style="top:936.28px;font-size:15.50px;color:#131722;left:605.30px;transform-origin:0 50%;transform:scaleX(0.9161);">Trading simulé</span>
<svg width="10" height="8" style="left:174.8px;top:940px" class="ic"><path d="M1.4 2l3.6 3.4L8.6 2"/></svg>
<div class="abs" style="left:702.2px;top:940.6px;width:6px;height:6px;border-radius:50%;background:#4caf50"></div>
<svg width="22" height="12" style="left:1510.4px;top:936.4px" class="ic"><path d="M2.2 9.6L11 2.4l8.8 7.2"/></svg>
<svg width="22" height="20" style="left:1546.4px;top:933.6px" class="ic"><rect x="2" y="2.4" width="17.6" height="15.6" rx="2.4"/><line x1="2" y1="5.6" x2="19.6" y2="5.6"/></svg>
<div class="abs" style="left:0;top:342.0px;width:52px;height:2px;background:#e0e3eb"></div>
<div class="abs" style="left:48px;top:338.0px;width:4px;height:10px;background:#e0e3eb"></div>
<div class="abs" style="left:44px;top:338.0px;width:8px;height:4px;background:#fff;border-radius:0 0 4px 0"></div>
<div class="abs" style="left:44px;top:344.0px;width:8px;height:4px;background:#fff;border-radius:0 4px 0 0"></div>
<div class="abs" style="left:0;top:427.0px;width:52px;height:2px;background:#e0e3eb"></div>
<div class="abs" style="left:48px;top:423.0px;width:4px;height:10px;background:#e0e3eb"></div>
<div class="abs" style="left:44px;top:423.0px;width:8px;height:4px;background:#fff;border-radius:0 0 4px 0"></div>
<div class="abs" style="left:44px;top:429.0px;width:8px;height:4px;background:#fff;border-radius:0 4px 0 0"></div>
<div class="abs" style="left:0;top:583.4px;width:52px;height:2px;background:#e0e3eb"></div>
<div class="abs" style="left:48px;top:579.4px;width:4px;height:10px;background:#e0e3eb"></div>
<div class="abs" style="left:44px;top:579.4px;width:8px;height:4px;background:#fff;border-radius:0 0 4px 0"></div>
<div class="abs" style="left:44px;top:585.4px;width:8px;height:4px;background:#fff;border-radius:0 4px 0 0"></div>
<svg width="32" height="32" style="left:10px;top:50.0px" class="ic" ><g stroke="#2196f3" stroke-width="1.2" stroke-linecap="butt"><line x1="16.5" y1="5" x2="16.5" y2="12.700"/><line x1="16.5" y1="20.300" x2="16.5" y2="28"/><line x1="5" y1="16.5" x2="12.700" y2="16.5"/><line x1="20.300" y1="16.5" x2="28" y2="16.5"/></g></svg>
<svg width="32" height="32" style="left:10px;top:86.0px" class="ic" ><circle cx="7.4" cy="24.4" r="2.1"/><circle cx="24.6" cy="7.4" r="2.1"/><line x1="8.900" y1="22.900" x2="23.100" y2="8.900"/></svg>
<svg width="32" height="32" style="left:10px;top:122.0px" class="ic" ><circle cx="7.4" cy="13.6" r="2.1"/><circle cx="7.4" cy="24.6" r="2.1"/><circle cx="18.5" cy="24.6" r="2.1"/><path d="M8.900 12.100L15.700 5.100M8.900 23.100L21.600 10.200M20 23.100L26.800 16M8.900 15.100L17 23.100"/></svg>
<svg width="32" height="32" style="left:10px;top:158.0px" class="ic" ><path d="M4.700 24.400C7.500 21.500 9 17 11 14.500C13.500 12 19 13 19.300 17.800C19.500 22 16.500 24.400 13.500 24.400Z"/><path d="M20.500 8.200C17.500 9 18 13.500 21 14.300C22 14.600 22.800 14.300 23.500 13.700L29.200 8.600"/></svg>
<svg width="32" height="32" style="left:10px;top:194.0px" class="ic" ><path d="M10.200 10.600V7.500H23.200V10.600M16.700 7.500V24.700M14.100 24.700H19.100"/></svg>
<svg width="32" height="32" style="left:10px;top:230.0px" class="ic" ><circle cx="10.400" cy="7.400" r="2.100"/><circle cx="22.400" cy="8.200" r="2.100"/><circle cx="14.400" cy="14.300" r="2.100"/><circle cx="7.400" cy="24.400" r="2.100"/><circle cx="25.600" cy="21.400" r="2.100"/><path d="M10 9.500L7.800 22.300M11.500 9.200L13.300 12.500M13.200 16L8.600 22.700M16.100 13L20.700 9.500M16.200 15.400L23.800 20.300M22.900 10.200L25.100 19.400"/></svg>
<svg width="32" height="32" style="left:10px;top:266.0px" class="ic" ><circle cx="6.400" cy="8.400" r="2.100"/><circle cx="6.400" cy="18.500" r="2.100"/><circle cx="6.400" cy="24.500" r="2.100"/><circle cx="24.600" cy="18.500" r="2.100"/><path d="M8.600 8.400H26M8.600 18.500H22.400M8.600 24.500H26"/><g fill="#131722" stroke="none"><circle cx="11.500" cy="16.200" r="0.700"/><circle cx="15.500" cy="14.400" r="0.700"/><circle cx="19.400" cy="12.500" r="0.700"/><circle cx="23.400" cy="10.600" r="0.700"/></g></svg>
<svg width="32" height="32" style="left:10px;top:302.0px" class="ic" ><circle cx="15.900" cy="16.100" r="7.900" stroke-width="1.300"/><circle cx="13.200" cy="13.500" r="1.100" fill="#131722" stroke="none"/><circle cx="18.600" cy="13.500" r="1.100" fill="#131722" stroke="none"/><path d="M12.300 17.700C13.300 19.900 14.500 20.900 15.900 20.900S18.400 19.900 19.400 17.700" stroke-width="1.300"/></svg>
<svg width="32" height="32" style="left:10px;top:350.0px" class="ic" ><path d="M4.700 22.700L21.700 5.700a1 1 0 0 1 1.400 0L27.300 9.900a1 1 0 0 1 0 1.400L10.300 28.200a1 1 0 0 1 -1.400 0L4.700 24.100a1 1 0 0 1 0 -1.400z"/><path d="M7.800 20.900L9.400 22.400M11 17.700L13 20.100M13.700 14.700L15.500 16.500M16.900 11.500L19.400 14.100M19.900 8.600L21.600 10.400"/></svg>
<svg width="32" height="32" style="left:10px;top:386.0px" class="ic" ><circle cx="14.500" cy="15.500" r="8.100"/><path d="M20.500 21.200L24 24.700M14.500 12.300V18.700M11.300 15.500H17.700"/></svg>
<div class="abs" style="left:11px;top:437px;width:30px;height:30px;border-radius:3.5px;background:#2196f3"></div>
<svg width="32" height="32" style="left:10px;top:436.0px" class="ic" ><g stroke="#fff" stroke-width="1.2" stroke-linejoin="miter"><path d="M8.060 24.400V13.970A7.970 7.970 0 0 1 24 13.970V24.400H18.650V13.900A2.650 2.650 0 0 0 13.350 13.900V24.400Z"/><path d="M8.060 20.700H13.350M18.650 20.700H24"/></g></svg>
<svg width="32" height="32" style="left:10px;top:471.0px" class="ic" ><path d="M17.300 5.200L21.400 9.200L9.800 20.800L5.800 21.800L5.100 17.800Z"/><path d="M6.900 19.600L19.300 7.200M15.300 7.200L19.400 11.300M5.500 17.400L9.800 20.800"/><rect x="17.300" y="20.600" width="8.700" height="5.900" rx="0.800"/><path d="M19.300 20.600V17.700a2.150 2.150 0 0 1 4.300 0V18.300"/><rect x="21.100" y="22.900" width="0.900" height="1.600" fill="#131722" stroke="none"/></svg>
<svg width="32" height="32" style="left:10px;top:507.0px" class="ic" ><rect x="8.200" y="15.300" width="15.500" height="11" rx="1.600"/><path d="M12.200 15.300V11.900a3.700 3.700 0 0 1 7.400 0V12.600"/><rect x="15.400" y="19.400" width="1.300" height="2.700" fill="#131722" stroke="none"/></svg>
<svg width="32" height="32" style="left:10px;top:542.0px" class="ic" ><path d="M5.900 13.800C8.300 9.400 11.400 6.900 14.900 6.900S21.600 9.400 24 13.800C21.600 18.200 18.400 20.800 14.900 20.800S8.300 18.200 5.900 13.800Z"/><circle cx="14.900" cy="13.700" r="3.600"/><path d="M23.600 20.600c-1.500-.6-2.500.1-2.700 1.400l-.7 4.700c-.2 1.100-1 1.500-1.900 1.300M19.600 23.700h3.400M22.700 25.900l2.600 2.600M25.300 25.900l-2.600 2.600" stroke-width="1.25"/></svg>
<svg width="32" height="32" style="left:10px;top:592.0px" class="ic" ><path d="M7.100 11.200H24.800M12.200 11.200V9.100a1 1 0 0 1 1-1h5.400a1 1 0 0 1 1 1V11.200M9.100 11.200V24.500a2 2 0 0 0 2 2h9.600a2 2 0 0 0 2-2V11.200M13.300 15.300V22.700M18.700 15.300V22.700"/></svg>
</body></html>
